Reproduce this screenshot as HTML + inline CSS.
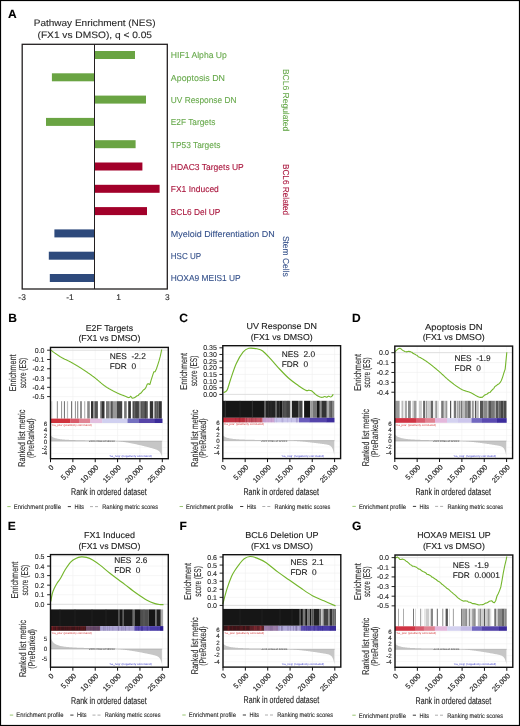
<!DOCTYPE html>
<html><head><meta charset="utf-8"><title>Figure</title>
<style>html,body{margin:0;padding:0;background:#fff;}body{width:520px;height:726px;overflow:hidden;font-family:"Liberation Sans",sans-serif;}svg{display:block;will-change:transform;}</style>
</head><body>
<svg width="520" height="726" viewBox="0 0 520 726" font-family="Liberation Sans, sans-serif" text-rendering="geometricPrecision"><rect x="0.5" y="0.5" width="519" height="725" fill="none" stroke="#000" stroke-width="1.2"/>
<text x="8.00" y="18.00" font-size="12" fill="#000" stroke="#000" stroke-width="0.12" font-weight="bold" >A</text>
<text x="33.75" y="25.75" font-size="9.4" fill="#2a2a2a" stroke="#2a2a2a" stroke-width="0.12" textLength="121.75" lengthAdjust="spacingAndGlyphs" >Pathway Enrichment (NES)</text>
<text x="37.50" y="37.75" font-size="9.4" fill="#2a2a2a" stroke="#2a2a2a" stroke-width="0.12" textLength="114.50" lengthAdjust="spacingAndGlyphs" >(FX1 vs DMSO), q &lt; 0.05</text>
<rect x="94.50" y="51.00" width="40.50" height="8.00" fill="#6aa443" />
<text x="170.80" y="58.40" font-size="8.7" fill="#66a84a" stroke="#66a84a" stroke-width="0.1" textLength="56.10" lengthAdjust="spacingAndGlyphs" >HIF1 Alpha Up</text>
<rect x="51.90" y="73.30" width="42.60" height="8.00" fill="#6aa443" />
<text x="170.80" y="80.70" font-size="8.7" fill="#66a84a" stroke="#66a84a" stroke-width="0.1" textLength="54.20" lengthAdjust="spacingAndGlyphs" >Apoptosis DN</text>
<rect x="94.50" y="95.60" width="51.50" height="8.00" fill="#6aa443" />
<text x="170.80" y="103.00" font-size="8.7" fill="#66a84a" stroke="#66a84a" stroke-width="0.1" textLength="65.70" lengthAdjust="spacingAndGlyphs" >UV Response DN</text>
<rect x="46.00" y="117.90" width="48.50" height="8.00" fill="#6aa443" />
<text x="170.80" y="125.30" font-size="8.7" fill="#66a84a" stroke="#66a84a" stroke-width="0.1" textLength="44.60" lengthAdjust="spacingAndGlyphs" >E2F Targets</text>
<rect x="94.50" y="140.20" width="41.10" height="8.00" fill="#6aa443" />
<text x="170.80" y="147.60" font-size="8.7" fill="#66a84a" stroke="#66a84a" stroke-width="0.1" textLength="49.60" lengthAdjust="spacingAndGlyphs" >TP53 Targets</text>
<rect x="94.50" y="162.50" width="47.90" height="8.00" fill="#a2002a" />
<text x="170.80" y="169.90" font-size="8.7" fill="#a8123a" stroke="#a8123a" stroke-width="0.1" textLength="73.00" lengthAdjust="spacingAndGlyphs" >HDAC3 Targets UP</text>
<rect x="94.50" y="184.80" width="65.10" height="8.00" fill="#a2002a" />
<text x="170.80" y="192.20" font-size="8.7" fill="#a8123a" stroke="#a8123a" stroke-width="0.1" textLength="48.00" lengthAdjust="spacingAndGlyphs" >FX1 Induced</text>
<rect x="94.50" y="207.10" width="52.50" height="8.00" fill="#a2002a" />
<text x="170.80" y="214.50" font-size="8.7" fill="#a8123a" stroke="#a8123a" stroke-width="0.1" textLength="49.60" lengthAdjust="spacingAndGlyphs" >BCL6 Del UP</text>
<rect x="54.40" y="229.40" width="40.10" height="8.00" fill="#2e4a7c" />
<text x="170.80" y="236.80" font-size="8.7" fill="#34508a" stroke="#34508a" stroke-width="0.1" textLength="103.90" lengthAdjust="spacingAndGlyphs" >Myeloid Differentiation DN</text>
<rect x="48.80" y="251.70" width="45.70" height="8.00" fill="#2e4a7c" />
<text x="170.80" y="259.10" font-size="8.7" fill="#34508a" stroke="#34508a" stroke-width="0.1" textLength="30.40" lengthAdjust="spacingAndGlyphs" >HSC UP</text>
<rect x="49.80" y="274.00" width="44.70" height="8.00" fill="#2e4a7c" />
<text x="170.80" y="281.40" font-size="8.7" fill="#34508a" stroke="#34508a" stroke-width="0.1" textLength="69.90" lengthAdjust="spacingAndGlyphs" >HOXA9 MEIS1 UP</text>
<rect x="22.2" y="44.3" width="145.10000000000002" height="244.7" fill="none" stroke="#231f20" stroke-width="1.3"/>
<line x1="94.50" y1="44.30" x2="94.50" y2="289.00" stroke="#231f20" stroke-width="1" />
<text x="283.20" y="68.90" font-size="8.7" fill="#66a84a" stroke="#66a84a" stroke-width="0.1" textLength="62.40" lengthAdjust="spacingAndGlyphs" transform="rotate(90 283.20 68.90)" >BCL6 Regulated</text>
<text x="283.20" y="163.90" font-size="8.7" fill="#a8123a" stroke="#a8123a" stroke-width="0.1" textLength="51.30" lengthAdjust="spacingAndGlyphs" transform="rotate(90 283.20 163.90)" >BCL6 Related</text>
<text x="283.20" y="235.90" font-size="8.7" fill="#34508a" stroke="#34508a" stroke-width="0.1" textLength="40.80" lengthAdjust="spacingAndGlyphs" transform="rotate(90 283.20 235.90)" >Stem Cells</text>
<text x="22.10" y="299.70" font-size="8.4" fill="#2a2a2a" stroke="#2a2a2a" stroke-width="0.12" text-anchor="middle" >-3</text>
<text x="70.00" y="299.70" font-size="8.4" fill="#2a2a2a" stroke="#2a2a2a" stroke-width="0.12" text-anchor="middle" >-1</text>
<text x="118.60" y="299.70" font-size="8.4" fill="#2a2a2a" stroke="#2a2a2a" stroke-width="0.12" text-anchor="middle" >1</text>
<text x="167.40" y="299.70" font-size="8.4" fill="#2a2a2a" stroke="#2a2a2a" stroke-width="0.12" text-anchor="middle" >3</text>
<text x="8.25" y="321.90" font-size="12" fill="#000" stroke="#000" stroke-width="0.12" font-weight="bold" >B</text>
<text x="109.40" y="330.80" font-size="8.6" fill="#222" stroke="#222" stroke-width="0.12" text-anchor="middle" textLength="47.40" lengthAdjust="spacingAndGlyphs" >E2F Targets</text>
<text x="109.40" y="341.40" font-size="8.6" fill="#222" stroke="#222" stroke-width="0.12" text-anchor="middle" textLength="62.00" lengthAdjust="spacingAndGlyphs" >(FX1 vs DMSO)</text>
<line x1="72.86" y1="347.40" x2="72.86" y2="401.20" stroke="#f0f0f0" stroke-width="0.6" />
<line x1="72.86" y1="423.00" x2="72.86" y2="458.70" stroke="#f0f0f0" stroke-width="0.6" />
<line x1="95.22" y1="347.40" x2="95.22" y2="401.20" stroke="#f0f0f0" stroke-width="0.6" />
<line x1="95.22" y1="423.00" x2="95.22" y2="458.70" stroke="#f0f0f0" stroke-width="0.6" />
<line x1="117.58" y1="347.40" x2="117.58" y2="401.20" stroke="#f0f0f0" stroke-width="0.6" />
<line x1="117.58" y1="423.00" x2="117.58" y2="458.70" stroke="#f0f0f0" stroke-width="0.6" />
<line x1="139.94" y1="347.40" x2="139.94" y2="401.20" stroke="#f0f0f0" stroke-width="0.6" />
<line x1="139.94" y1="423.00" x2="139.94" y2="458.70" stroke="#f0f0f0" stroke-width="0.6" />
<line x1="162.30" y1="347.40" x2="162.30" y2="401.20" stroke="#f0f0f0" stroke-width="0.6" />
<line x1="162.30" y1="423.00" x2="162.30" y2="458.70" stroke="#f0f0f0" stroke-width="0.6" />
<line x1="50.50" y1="350.20" x2="168.30" y2="350.20" stroke="#f0f0f0" stroke-width="0.6" />
<line x1="50.50" y1="359.48" x2="168.30" y2="359.48" stroke="#f0f0f0" stroke-width="0.6" />
<line x1="50.50" y1="368.76" x2="168.30" y2="368.76" stroke="#f0f0f0" stroke-width="0.6" />
<line x1="50.50" y1="378.04" x2="168.30" y2="378.04" stroke="#f0f0f0" stroke-width="0.6" />
<line x1="50.50" y1="387.32" x2="168.30" y2="387.32" stroke="#f0f0f0" stroke-width="0.6" />
<line x1="50.50" y1="396.60" x2="168.30" y2="396.60" stroke="#f0f0f0" stroke-width="0.6" />
<line x1="50.50" y1="350.20" x2="168.30" y2="350.20" stroke="#dadada" stroke-width="0.8" />
<line x1="50.50" y1="423.60" x2="168.30" y2="423.60" stroke="#f0f0f0" stroke-width="0.5" />
<line x1="50.50" y1="429.55" x2="168.30" y2="429.55" stroke="#f0f0f0" stroke-width="0.5" />
<line x1="50.50" y1="435.50" x2="168.30" y2="435.50" stroke="#f0f0f0" stroke-width="0.5" />
<line x1="50.50" y1="441.45" x2="168.30" y2="441.45" stroke="#f0f0f0" stroke-width="0.5" />
<line x1="50.50" y1="447.40" x2="168.30" y2="447.40" stroke="#f0f0f0" stroke-width="0.5" />
<line x1="50.50" y1="453.35" x2="168.30" y2="453.35" stroke="#f0f0f0" stroke-width="0.5" />
<rect x="51.30" y="401.20" width="1.00" height="17.40" fill="#ccc" />
<rect x="56.80" y="401.20" width="1.20" height="17.40" fill="#999" />
<rect x="61.00" y="401.20" width="1.10" height="17.40" fill="#999" />
<rect x="63.90" y="401.20" width="1.10" height="17.40" fill="#777" />
<rect x="66.90" y="401.20" width="1.20" height="17.40" fill="#bbb" />
<rect x="71.00" y="401.20" width="1.20" height="17.40" fill="#777" />
<rect x="74.90" y="401.20" width="1.10" height="17.40" fill="#999" />
<rect x="77.00" y="401.20" width="1.30" height="17.40" fill="#999" />
<rect x="80.30" y="401.20" width="1.40" height="17.40" fill="#666" />
<rect x="84.00" y="401.20" width="1.30" height="17.40" fill="#bbb" />
<rect x="87.20" y="401.20" width="2.60" height="17.40" fill="#888" />
<rect x="91.00" y="401.20" width="2.30" height="17.40" fill="#333" />
<rect x="93.30" y="401.20" width="1.20" height="17.40" fill="#888" />
<rect x="94.50" y="401.20" width="3.40" height="17.40" fill="#555" />
<rect x="100.20" y="401.20" width="1.20" height="17.40" fill="#777" />
<rect x="101.40" y="401.20" width="3.10" height="17.40" fill="#333" />
<rect x="106.00" y="401.20" width="3.10" height="17.40" fill="#777" />
<rect x="109.10" y="401.20" width="1.90" height="17.40" fill="#999" />
<rect x="111.00" y="401.20" width="1.90" height="17.40" fill="#555" />
<rect x="112.90" y="401.20" width="3.90" height="17.40" fill="#999" />
<rect x="116.80" y="401.20" width="5.40" height="17.40" fill="#444" />
<rect x="124.10" y="401.20" width="2.60" height="17.40" fill="#777" />
<rect x="128.20" y="401.20" width="2.70" height="17.40" fill="#333" />
<rect x="132.50" y="401.20" width="6.90" height="17.40" fill="#4c4c4c" />
<rect x="139.40" y="401.20" width="1.10" height="17.40" fill="#888" />
<rect x="140.50" y="401.20" width="7.30" height="17.40" fill="#555" />
<rect x="149.80" y="401.20" width="3.40" height="17.40" fill="#333" />
<rect x="154.40" y="401.20" width="4.20" height="17.40" fill="#555" />
<rect x="158.60" y="401.20" width="3.20" height="17.40" fill="#333" />
<rect x="134.20" y="401.20" width="0.60" height="17.40" fill="#777" />
<rect x="136.70" y="401.20" width="0.60" height="17.40" fill="#333" />
<rect x="142.70" y="401.20" width="0.60" height="17.40" fill="#777" />
<rect x="145.20" y="401.20" width="0.60" height="17.40" fill="#333" />
<rect x="156.20" y="401.20" width="0.60" height="17.40" fill="#777" />
<rect x="50.80" y="418.60" width="19.70" height="4.40" fill="#d0323c" />
<rect x="70.30" y="418.60" width="9.40" height="4.40" fill="#d85a6a" />
<rect x="79.50" y="418.60" width="10.90" height="4.40" fill="#e08494" />
<rect x="90.20" y="418.60" width="12.20" height="4.40" fill="#e2c0e0" />
<rect x="102.20" y="418.60" width="25.50" height="4.40" fill="#d0d0f0" />
<rect x="127.50" y="418.60" width="11.30" height="4.40" fill="#7470c0" />
<rect x="138.60" y="418.60" width="16.40" height="4.40" fill="#5644a8" />
<rect x="154.80" y="418.60" width="7.70" height="4.40" fill="#3a2a98" />
<text x="51.70" y="426.00" font-size="2.7" fill="#d02828" textLength="40.00" lengthAdjust="spacingAndGlyphs" >&#x27;na_pos&#x27; (positively correlated)</text>
<text x="109.20" y="456.70" font-size="2.7" fill="#3030c8" textLength="42.50" lengthAdjust="spacingAndGlyphs" >&#x27;na_neg&#x27; (negatively correlated)</text>
<path d="M50.50,441.10 L50.50,435.30 L51.20,436.01 L51.90,436.57 L52.60,437.02 L53.30,437.38 L54.00,437.69 L54.70,437.95 L55.40,438.17 L56.10,438.36 L56.80,438.53 L57.50,438.68 L58.20,438.82 L58.90,438.94 L59.60,439.04 L60.30,439.14 L61.00,439.23 L61.70,439.31 L62.40,439.38 L63.10,439.45 L63.80,439.52 L64.50,439.57 L65.20,439.63 L65.90,439.68 L66.60,439.73 L67.30,439.77 L68.00,439.81 L68.70,439.85 L69.40,439.89 L70.10,439.92 L70.80,439.95 L71.50,439.98 L72.20,440.01 L72.90,440.04 L73.60,440.07 L74.30,440.09 L75.00,440.12 L75.70,440.14 L76.40,440.16 L77.10,440.18 L77.80,440.20 L78.50,440.22 L79.20,440.24 L79.90,440.26 L80.60,440.27 L81.30,440.29 L82.00,440.31 L82.70,440.32 L83.40,440.33 L84.10,440.35 L84.80,440.36 L85.50,440.38 L86.20,440.39 L86.90,440.40 L87.60,440.41 L88.30,440.42 L89.00,440.43 L89.70,440.44 L90.40,440.45 L91.10,440.46 L91.80,440.47 L92.50,440.48 L93.20,440.49 L93.90,440.50 L94.60,440.51 L95.30,440.52 L96.00,440.53 L96.70,440.53 L97.40,440.54 L98.10,440.55 L98.80,440.56 L99.50,440.56 L100.20,440.57 L100.90,440.58 L101.60,440.58 L102.30,440.59 L103.00,440.60 L103.70,440.60 L104.40,440.61 L105.10,440.61 L105.80,440.62 L106.50,440.62 L107.20,440.63 L107.90,440.64 L108.60,440.64 L109.30,440.65 L110.00,440.65 L110.70,440.66 L111.40,440.66 L112.10,440.66 L112.80,440.67 L113.50,440.67 L114.20,440.68 L114.90,440.68 L115.60,440.69 L115.50,441.10 Z" fill="#c6c6c6"/>
<path d="M115.50,441.10 L115.50,441.10 L115.89,441.11 L116.27,441.13 L116.66,441.16 L117.05,441.19 L117.43,441.22 L117.82,441.25 L118.21,441.29 L118.59,441.33 L118.98,441.37 L119.37,441.41 L119.75,441.45 L120.14,441.50 L120.53,441.55 L120.91,441.59 L121.30,441.64 L121.69,441.70 L122.07,441.75 L122.46,441.80 L122.85,441.86 L123.23,441.91 L123.62,441.97 L124.01,442.03 L124.39,442.09 L124.78,442.15 L125.17,442.21 L125.55,442.28 L125.94,442.34 L126.33,442.40 L126.71,442.47 L127.10,442.54 L127.49,442.60 L127.87,442.67 L128.26,442.74 L128.65,442.81 L129.03,442.88 L129.42,442.95 L129.81,443.03 L130.19,443.10 L130.58,443.17 L130.97,443.25 L131.35,443.32 L131.74,443.40 L132.13,443.48 L132.51,443.55 L132.90,443.63 L133.29,443.71 L133.67,443.79 L134.06,443.87 L134.45,443.95 L134.83,444.04 L135.22,444.12 L135.61,444.20 L135.99,444.29 L136.38,444.37 L136.77,444.45 L137.15,444.54 L137.54,444.63 L137.93,444.71 L138.31,444.80 L138.70,444.89 L139.09,444.98 L139.47,445.07 L139.86,445.16 L140.25,445.25 L140.63,445.34 L141.02,445.43 L141.41,445.52 L141.79,445.62 L142.18,445.71 L142.57,445.80 L142.95,445.90 L143.34,445.99 L143.73,446.09 L144.11,446.18 L144.50,446.28 L144.89,446.38 L145.27,446.47 L145.66,446.57 L146.05,446.67 L146.43,446.77 L146.82,446.87 L147.21,446.97 L147.59,447.07 L147.98,447.17 L148.37,447.27 L148.75,447.37 L149.14,447.48 L149.53,447.58 L149.91,447.68 L150.30,447.79 L150.69,447.89 L151.07,448.00 L151.46,448.10 L151.85,448.21 L152.23,448.32 L152.62,448.43 L153.01,448.54 L153.39,448.65 L153.78,448.76 L154.17,448.88 L154.55,449.00 L154.94,449.12 L155.33,449.25 L155.71,449.38 L156.10,449.53 L156.49,449.68 L156.87,449.84 L157.26,450.02 L157.65,450.21 L158.03,450.43 L158.42,450.69 L158.81,450.98 L159.19,451.32 L159.58,451.72 L159.97,452.19 L160.35,452.77 L160.74,453.46 L161.13,454.30 L161.51,455.33 L161.90,456.60 L161.90,441.10 Z" fill="#c6c6c6"/>
<line x1="50.50" y1="441.10" x2="162.30" y2="441.10" stroke="#9a9a9a" stroke-width="0.5" />
<text x="89.00" y="442.00" font-size="2.7" fill="#333" textLength="26.00" lengthAdjust="spacingAndGlyphs" >Zero cross at 12XXX</text>
<path d="M50.80,350.10 L50.94,350.20 L51.10,350.32 L51.27,350.45 L51.47,350.60 L51.68,350.76 L51.91,350.93 L52.15,351.12 L52.41,351.31 L52.68,351.52 L52.97,351.73 L53.27,351.94 L53.57,352.17 L53.89,352.40 L54.22,352.63 L54.56,352.86 L54.90,353.10 L55.10,353.24 L55.31,353.38 L55.51,353.52 L55.73,353.67 L55.95,353.83 L56.17,353.98 L56.39,354.14 L56.62,354.30 L56.86,354.46 L57.10,354.62 L57.34,354.79 L57.58,354.96 L57.83,355.13 L58.08,355.30 L58.34,355.47 L58.59,355.64 L58.85,355.82 L59.12,355.99 L59.39,356.17 L59.66,356.34 L59.93,356.51 L60.20,356.69 L60.48,356.86 L60.76,357.03 L61.04,357.20 L61.33,357.37 L61.61,357.53 L61.90,357.70 L62.13,357.83 L62.35,357.95 L62.58,358.08 L62.81,358.20 L63.05,358.32 L63.28,358.44 L63.52,358.56 L63.75,358.68 L63.99,358.80 L64.23,358.91 L64.47,359.03 L64.72,359.15 L64.96,359.27 L65.21,359.38 L65.46,359.50 L65.71,359.62 L65.96,359.74 L66.22,359.86 L66.47,359.98 L66.73,360.10 L66.99,360.22 L67.25,360.34 L67.52,360.47 L67.78,360.60 L68.05,360.72 L68.32,360.86 L68.59,360.99 L68.86,361.12 L69.13,361.26 L69.41,361.40 L69.69,361.54 L69.96,361.69 L70.25,361.84 L70.53,361.99 L70.81,362.14 L71.10,362.30 L71.33,362.43 L71.55,362.55 L71.78,362.68 L72.02,362.81 L72.25,362.94 L72.49,363.08 L72.72,363.21 L72.96,363.35 L73.20,363.49 L73.45,363.62 L73.69,363.76 L73.93,363.91 L74.18,364.05 L74.43,364.19 L74.68,364.34 L74.93,364.48 L75.18,364.63 L75.43,364.78 L75.68,364.93 L75.93,365.08 L76.19,365.23 L76.44,365.38 L76.70,365.53 L76.96,365.68 L77.21,365.84 L77.47,365.99 L77.73,366.15 L77.99,366.31 L78.24,366.46 L78.50,366.62 L78.76,366.78 L79.02,366.94 L79.28,367.10 L79.54,367.26 L79.79,367.42 L80.05,367.58 L80.31,367.74 L80.57,367.90 L80.82,368.06 L81.08,368.22 L81.33,368.39 L81.59,368.55 L81.84,368.71 L82.10,368.87 L82.35,369.04 L82.60,369.20 L82.85,369.36 L83.10,369.53 L83.35,369.69 L83.61,369.86 L83.86,370.02 L84.11,370.19 L84.36,370.36 L84.61,370.52 L84.86,370.69 L85.12,370.86 L85.37,371.03 L85.62,371.20 L85.87,371.37 L86.13,371.54 L86.38,371.71 L86.63,371.88 L86.88,372.05 L87.14,372.23 L87.39,372.40 L87.64,372.57 L87.89,372.75 L88.15,372.92 L88.40,373.10 L88.65,373.28 L88.91,373.45 L89.16,373.63 L89.41,373.81 L89.66,373.99 L89.92,374.17 L90.17,374.35 L90.42,374.53 L90.67,374.71 L90.93,374.89 L91.18,375.07 L91.43,375.25 L91.68,375.44 L91.94,375.62 L92.19,375.81 L92.44,375.99 L92.69,376.18 L92.94,376.36 L93.19,376.55 L93.45,376.74 L93.70,376.92 L93.95,377.11 L94.20,377.30 L94.45,377.49 L94.70,377.68 L94.95,377.88 L95.20,378.08 L95.45,378.27 L95.70,378.48 L95.95,378.68 L96.20,378.88 L96.45,379.09 L96.70,379.30 L96.95,379.50 L97.20,379.71 L97.45,379.92 L97.70,380.14 L97.95,380.35 L98.20,380.56 L98.45,380.77 L98.70,380.99 L98.95,381.20 L99.20,381.42 L99.45,381.63 L99.70,381.84 L99.95,382.06 L100.20,382.27 L100.45,382.48 L100.70,382.69 L100.95,382.90 L101.20,383.12 L101.45,383.32 L101.70,383.53 L101.95,383.74 L102.20,383.94 L102.45,384.15 L102.70,384.35 L102.95,384.55 L103.20,384.75 L103.45,384.95 L103.70,385.14 L103.95,385.33 L104.20,385.52 L104.45,385.71 L104.70,385.89 L104.95,386.07 L105.20,386.25 L105.45,386.43 L105.70,386.60 L105.95,386.77 L106.21,386.94 L106.46,387.11 L106.72,387.27 L106.98,387.44 L107.24,387.60 L107.51,387.77 L107.77,387.93 L108.04,388.09 L108.30,388.25 L108.57,388.41 L108.84,388.57 L109.11,388.72 L109.37,388.88 L109.64,389.03 L109.91,389.18 L110.18,389.33 L110.45,389.48 L110.72,389.63 L110.99,389.78 L111.26,389.92 L111.52,390.06 L111.79,390.21 L112.05,390.35 L112.32,390.49 L112.58,390.62 L112.84,390.76 L113.10,390.89 L113.35,391.02 L113.61,391.15 L113.86,391.28 L114.11,391.41 L114.36,391.54 L114.61,391.66 L114.85,391.78 L115.09,391.90 L115.33,392.02 L115.56,392.14 L115.79,392.25 L116.02,392.36 L116.24,392.48 L116.46,392.58 L116.68,392.69 L116.89,392.80 L117.10,392.90 L117.30,393.00 L117.64,393.17 L117.97,393.32 L118.29,393.47 L118.60,393.62 L118.90,393.75 L119.19,393.88 L119.48,394.01 L119.76,394.12 L120.03,394.24 L120.30,394.34 L120.56,394.45 L120.82,394.55 L121.06,394.64 L121.31,394.73 L121.55,394.82 L121.78,394.91 L122.02,394.99 L122.24,395.07 L122.47,395.15 L122.69,395.23 L122.91,395.31 L123.13,395.39 L123.35,395.47 L123.56,395.55 L123.77,395.63 L123.99,395.72 L124.20,395.80 L124.52,395.93 L124.83,396.06 L125.13,396.19 L125.43,396.33 L125.72,396.46 L126.00,396.59 L126.28,396.72 L126.55,396.84 L126.81,396.96 L127.07,397.07 L127.31,397.17 L127.55,397.27 L127.78,397.35 L128.00,397.43 L128.22,397.49 L128.42,397.54 L128.61,397.58 L128.80,397.60 L129.22,397.55 L129.55,397.36 L129.82,397.10 L130.05,396.80 L130.26,396.54 L130.47,396.35 L130.70,396.30 L130.96,396.45 L131.19,396.78 L131.40,397.19 L131.64,397.60 L131.93,397.93 L132.30,398.10 L132.49,398.12 L132.69,398.12 L132.90,398.10 L133.13,398.07 L133.36,398.02 L133.61,397.96 L133.86,397.88 L134.12,397.79 L134.39,397.69 L134.66,397.57 L134.94,397.45 L135.51,396.98 L136.77,396.03 L138.11,395.55 L139.44,393.90 L140.70,393.26 L142.11,391.68 L143.35,390.03 L144.67,389.24 L145.88,387.59 L147.25,384.14 L148.54,383.72 L149.84,384.53 L151.14,380.08 L152.48,375.85 L153.80,371.92 L155.10,371.75 L156.37,369.04 L157.70,365.05 L159.03,360.92 L160.33,356.22 L161.60,350.08 L161.60,349.60" fill="none" stroke="#74b62c" stroke-width="1.1" stroke-linejoin="round"/>
<rect x="50.50" y="347.40" width="117.80" height="111.30" fill="none" stroke="#111" stroke-width="1.4"/>
<line x1="47.10" y1="350.20" x2="50.50" y2="350.20" stroke="#111" stroke-width="0.9" />
<text x="44.50" y="352.70" font-size="7" fill="#2a2a2a" stroke="#2a2a2a" stroke-width="0.12" text-anchor="end" >0.0</text>
<line x1="47.10" y1="359.48" x2="50.50" y2="359.48" stroke="#111" stroke-width="0.9" />
<text x="44.50" y="361.98" font-size="7" fill="#2a2a2a" stroke="#2a2a2a" stroke-width="0.12" text-anchor="end" >-0.1</text>
<line x1="47.10" y1="368.76" x2="50.50" y2="368.76" stroke="#111" stroke-width="0.9" />
<text x="44.50" y="371.26" font-size="7" fill="#2a2a2a" stroke="#2a2a2a" stroke-width="0.12" text-anchor="end" >-0.2</text>
<line x1="47.10" y1="378.04" x2="50.50" y2="378.04" stroke="#111" stroke-width="0.9" />
<text x="44.50" y="380.54" font-size="7" fill="#2a2a2a" stroke="#2a2a2a" stroke-width="0.12" text-anchor="end" >-0.3</text>
<line x1="47.10" y1="387.32" x2="50.50" y2="387.32" stroke="#111" stroke-width="0.9" />
<text x="44.50" y="389.82" font-size="7" fill="#2a2a2a" stroke="#2a2a2a" stroke-width="0.12" text-anchor="end" >-0.4</text>
<line x1="47.10" y1="396.60" x2="50.50" y2="396.60" stroke="#111" stroke-width="0.9" />
<text x="44.50" y="399.10" font-size="7" fill="#2a2a2a" stroke="#2a2a2a" stroke-width="0.12" text-anchor="end" >-0.5</text>
<text x="47.30" y="425.70" font-size="6.2" fill="#2a2a2a" stroke="#2a2a2a" stroke-width="0.12" text-anchor="end" transform="translate(0 0)">6</text>
<text x="47.30" y="431.65" font-size="6.2" fill="#2a2a2a" stroke="#2a2a2a" stroke-width="0.12" text-anchor="end" transform="translate(0 0)">4</text>
<text x="47.30" y="437.60" font-size="6.2" fill="#2a2a2a" stroke="#2a2a2a" stroke-width="0.12" text-anchor="end" transform="translate(0 0)">2</text>
<text x="47.30" y="443.55" font-size="6.2" fill="#2a2a2a" stroke="#2a2a2a" stroke-width="0.12" text-anchor="end" transform="translate(0 0)">0</text>
<text x="47.30" y="449.50" font-size="6.2" fill="#2a2a2a" stroke="#2a2a2a" stroke-width="0.12" text-anchor="end" transform="translate(0 0)">-2</text>
<text x="47.30" y="455.45" font-size="6.2" fill="#2a2a2a" stroke="#2a2a2a" stroke-width="0.12" text-anchor="end" transform="translate(0 0)">-4</text>
<line x1="50.50" y1="458.70" x2="50.50" y2="462.20" stroke="#111" stroke-width="1" />
<text x="0" y="0" font-size="7.2" fill="#2a2a2a" stroke="#2a2a2a" stroke-width="0.15" text-anchor="end" transform="translate(54.20 467.80) rotate(-45)">0</text>
<line x1="72.86" y1="458.70" x2="72.86" y2="462.20" stroke="#111" stroke-width="1" />
<text x="0" y="0" font-size="7.2" fill="#2a2a2a" stroke="#2a2a2a" stroke-width="0.15" text-anchor="end" transform="translate(76.56 467.80) rotate(-45)">5,000</text>
<line x1="95.22" y1="458.70" x2="95.22" y2="462.20" stroke="#111" stroke-width="1" />
<text x="0" y="0" font-size="7.2" fill="#2a2a2a" stroke="#2a2a2a" stroke-width="0.15" text-anchor="end" transform="translate(98.92 467.80) rotate(-45)">10,000</text>
<line x1="117.58" y1="458.70" x2="117.58" y2="462.20" stroke="#111" stroke-width="1" />
<text x="0" y="0" font-size="7.2" fill="#2a2a2a" stroke="#2a2a2a" stroke-width="0.15" text-anchor="end" transform="translate(121.28 467.80) rotate(-45)">15,000</text>
<line x1="139.94" y1="458.70" x2="139.94" y2="462.20" stroke="#111" stroke-width="1" />
<text x="0" y="0" font-size="7.2" fill="#2a2a2a" stroke="#2a2a2a" stroke-width="0.15" text-anchor="end" transform="translate(143.64 467.80) rotate(-45)">20,000</text>
<line x1="162.30" y1="458.70" x2="162.30" y2="462.20" stroke="#111" stroke-width="1" />
<text x="0" y="0" font-size="7.2" fill="#2a2a2a" stroke="#2a2a2a" stroke-width="0.15" text-anchor="end" transform="translate(166.00 467.80) rotate(-45)">25,000</text>
<text x="108.90" y="495.00" font-size="9.8" fill="#222" stroke="#222" stroke-width="0.12" text-anchor="middle" textLength="75.60" lengthAdjust="spacingAndGlyphs" >Rank in ordered dataset</text>
<text x="109.80" y="358.60" font-size="8.3" fill="#1a1a1a" stroke="#1a1a1a" stroke-width="0.12" style="white-space:pre">NES  -2.2</text>
<text x="109.80" y="368.80" font-size="8.3" fill="#1a1a1a" stroke="#1a1a1a" stroke-width="0.12" style="white-space:pre">FDR  0</text>
<text x="16.40" y="372.85" font-size="9.8" fill="#2a2a2a" stroke="#2a2a2a" stroke-width="0.12" text-anchor="middle" textLength="36.80" lengthAdjust="spacingAndGlyphs" transform="rotate(-90 16.40 372.85)" >Enrichment</text>
<text x="25.60" y="373.05" font-size="9.8" fill="#2a2a2a" stroke="#2a2a2a" stroke-width="0.12" text-anchor="middle" textLength="30.60" lengthAdjust="spacingAndGlyphs" transform="rotate(-90 25.60 373.05)" >score (ES)</text>
<text x="25.40" y="438.20" font-size="9.8" fill="#2a2a2a" stroke="#2a2a2a" stroke-width="0.12" text-anchor="middle" textLength="57.00" lengthAdjust="spacingAndGlyphs" transform="rotate(-90 25.40 438.20)" >Ranked list metric</text>
<text x="34.00" y="438.25" font-size="9.8" fill="#2a2a2a" stroke="#2a2a2a" stroke-width="0.12" text-anchor="middle" textLength="39.50" lengthAdjust="spacingAndGlyphs" transform="rotate(-90 34.00 438.25)" >(PreRanked)</text>
<line x1="7.30" y1="506.60" x2="10.70" y2="506.60" stroke="#8cc060" stroke-width="0.9" />
<text x="13.80" y="508.90" font-size="6.6" fill="#2a2a2a" stroke="#2a2a2a" stroke-width="0.12" textLength="47.10" lengthAdjust="spacingAndGlyphs" >Enrichment profile</text>
<line x1="67.80" y1="506.60" x2="71.00" y2="506.60" stroke="#222" stroke-width="0.9" />
<text x="74.40" y="508.90" font-size="6.6" fill="#2a2a2a" stroke="#2a2a2a" stroke-width="0.12" textLength="9.60" lengthAdjust="spacingAndGlyphs" >Hits</text>
<line x1="90.00" y1="506.60" x2="93.00" y2="506.60" stroke="#999" stroke-width="0.8" />
<line x1="95.00" y1="506.60" x2="98.00" y2="506.60" stroke="#999" stroke-width="0.8" />
<text x="102.30" y="508.90" font-size="6.6" fill="#2a2a2a" stroke="#2a2a2a" stroke-width="0.12" textLength="55.70" lengthAdjust="spacingAndGlyphs" >Ranking metric scores</text>
<text x="179.20" y="321.90" font-size="12" fill="#000" stroke="#000" stroke-width="0.12" font-weight="bold" >C</text>
<text x="281.70" y="329.10" font-size="8.6" fill="#222" stroke="#222" stroke-width="0.12" text-anchor="middle" textLength="70.50" lengthAdjust="spacingAndGlyphs" >UV Response DN</text>
<text x="281.70" y="339.70" font-size="8.6" fill="#222" stroke="#222" stroke-width="0.12" text-anchor="middle" textLength="62.00" lengthAdjust="spacingAndGlyphs" >(FX1 vs DMSO)</text>
<line x1="245.16" y1="345.70" x2="245.16" y2="400.80" stroke="#f0f0f0" stroke-width="0.6" />
<line x1="245.16" y1="422.40" x2="245.16" y2="458.60" stroke="#f0f0f0" stroke-width="0.6" />
<line x1="267.52" y1="345.70" x2="267.52" y2="400.80" stroke="#f0f0f0" stroke-width="0.6" />
<line x1="267.52" y1="422.40" x2="267.52" y2="458.60" stroke="#f0f0f0" stroke-width="0.6" />
<line x1="289.88" y1="345.70" x2="289.88" y2="400.80" stroke="#f0f0f0" stroke-width="0.6" />
<line x1="289.88" y1="422.40" x2="289.88" y2="458.60" stroke="#f0f0f0" stroke-width="0.6" />
<line x1="312.24" y1="345.70" x2="312.24" y2="400.80" stroke="#f0f0f0" stroke-width="0.6" />
<line x1="312.24" y1="422.40" x2="312.24" y2="458.60" stroke="#f0f0f0" stroke-width="0.6" />
<line x1="334.60" y1="345.70" x2="334.60" y2="400.80" stroke="#f0f0f0" stroke-width="0.6" />
<line x1="334.60" y1="422.40" x2="334.60" y2="458.60" stroke="#f0f0f0" stroke-width="0.6" />
<line x1="222.80" y1="347.80" x2="340.60" y2="347.80" stroke="#f0f0f0" stroke-width="0.6" />
<line x1="222.80" y1="354.46" x2="340.60" y2="354.46" stroke="#f0f0f0" stroke-width="0.6" />
<line x1="222.80" y1="361.12" x2="340.60" y2="361.12" stroke="#f0f0f0" stroke-width="0.6" />
<line x1="222.80" y1="367.78" x2="340.60" y2="367.78" stroke="#f0f0f0" stroke-width="0.6" />
<line x1="222.80" y1="374.44" x2="340.60" y2="374.44" stroke="#f0f0f0" stroke-width="0.6" />
<line x1="222.80" y1="381.10" x2="340.60" y2="381.10" stroke="#f0f0f0" stroke-width="0.6" />
<line x1="222.80" y1="387.76" x2="340.60" y2="387.76" stroke="#f0f0f0" stroke-width="0.6" />
<line x1="222.80" y1="394.42" x2="340.60" y2="394.42" stroke="#f0f0f0" stroke-width="0.6" />
<line x1="222.80" y1="394.40" x2="340.60" y2="394.40" stroke="#dadada" stroke-width="0.8" />
<line x1="222.80" y1="423.10" x2="340.60" y2="423.10" stroke="#f0f0f0" stroke-width="0.5" />
<line x1="222.80" y1="429.05" x2="340.60" y2="429.05" stroke="#f0f0f0" stroke-width="0.5" />
<line x1="222.80" y1="435.00" x2="340.60" y2="435.00" stroke="#f0f0f0" stroke-width="0.5" />
<line x1="222.80" y1="440.95" x2="340.60" y2="440.95" stroke="#f0f0f0" stroke-width="0.5" />
<line x1="222.80" y1="446.90" x2="340.60" y2="446.90" stroke="#f0f0f0" stroke-width="0.5" />
<line x1="222.80" y1="452.85" x2="340.60" y2="452.85" stroke="#f0f0f0" stroke-width="0.5" />
<rect x="223.00" y="400.80" width="41.20" height="17.00" fill="#161616" />
<rect x="264.20" y="400.80" width="1.50" height="17.00" fill="#444" />
<rect x="265.70" y="400.80" width="10.00" height="17.00" fill="#222" />
<rect x="275.70" y="400.80" width="1.10" height="17.00" fill="#555" />
<rect x="276.80" y="400.80" width="3.10" height="17.00" fill="#222" />
<rect x="279.90" y="400.80" width="2.70" height="17.00" fill="#161616" />
<rect x="282.60" y="400.80" width="7.70" height="17.00" fill="#4a4a4a" />
<rect x="291.80" y="400.80" width="6.20" height="17.00" fill="#222" />
<rect x="298.00" y="400.80" width="1.10" height="17.00" fill="#666" />
<rect x="299.10" y="400.80" width="3.40" height="17.00" fill="#444" />
<rect x="304.10" y="400.80" width="6.10" height="17.00" fill="#161616" />
<rect x="310.20" y="400.80" width="2.70" height="17.00" fill="#999" />
<rect x="312.90" y="400.80" width="3.90" height="17.00" fill="#777" />
<rect x="316.80" y="400.80" width="3.00" height="17.00" fill="#161616" />
<rect x="319.80" y="400.80" width="1.60" height="17.00" fill="#888" />
<rect x="321.40" y="400.80" width="5.40" height="17.00" fill="#333" />
<rect x="326.80" y="400.80" width="2.30" height="17.00" fill="#aaa" />
<rect x="329.10" y="400.80" width="2.30" height="17.00" fill="#666" />
<rect x="331.40" y="400.80" width="1.10" height="17.00" fill="#161616" />
<rect x="332.50" y="400.80" width="1.80" height="17.00" fill="#888" />
<rect x="224.80" y="400.80" width="0.80" height="17.00" fill="#444" />
<rect x="239.70" y="400.80" width="0.60" height="17.00" fill="#2a2a2a" />
<rect x="251.90" y="400.80" width="0.80" height="17.00" fill="#3a3a3a" />
<rect x="268.20" y="400.80" width="0.60" height="17.00" fill="#333" />
<rect x="270.70" y="400.80" width="0.60" height="17.00" fill="#333" />
<rect x="284.70" y="400.80" width="0.60" height="17.00" fill="#666" />
<rect x="287.70" y="400.80" width="0.60" height="17.00" fill="#333" />
<rect x="223.00" y="417.80" width="2.20" height="4.60" fill="#d82030" />
<rect x="225.00" y="417.80" width="20.20" height="4.60" fill="#bc3040" />
<rect x="245.00" y="417.80" width="17.80" height="4.60" fill="#c45262" />
<rect x="262.60" y="417.80" width="12.10" height="4.60" fill="#cca4d2" />
<rect x="274.50" y="417.80" width="24.70" height="4.60" fill="#c8c4ea" />
<rect x="299.00" y="417.80" width="11.00" height="4.60" fill="#6a5cbc" />
<rect x="309.80" y="417.80" width="17.20" height="4.60" fill="#5444aa" />
<rect x="326.80" y="417.80" width="7.70" height="4.60" fill="#3c2c9c" />
<rect x="251.70" y="417.80" width="0.50" height="4.60" fill="#801820" fill-opacity="0.33"/>
<rect x="239.61" y="417.80" width="0.90" height="4.60" fill="#801820" fill-opacity="0.21"/>
<rect x="252.81" y="417.80" width="0.70" height="4.60" fill="#801820" fill-opacity="0.21"/>
<rect x="249.24" y="417.80" width="0.90" height="4.60" fill="#801820" fill-opacity="0.23"/>
<rect x="239.50" y="417.80" width="0.50" height="4.60" fill="#801820" fill-opacity="0.40"/>
<rect x="238.71" y="417.80" width="0.50" height="4.60" fill="#801820" fill-opacity="0.36"/>
<rect x="260.32" y="417.80" width="0.50" height="4.60" fill="#801820" fill-opacity="0.33"/>
<rect x="255.80" y="417.80" width="0.50" height="4.60" fill="#801820" fill-opacity="0.23"/>
<rect x="245.94" y="417.80" width="0.70" height="4.60" fill="#801820" fill-opacity="0.27"/>
<rect x="254.78" y="417.80" width="0.50" height="4.60" fill="#801820" fill-opacity="0.21"/>
<rect x="251.30" y="417.80" width="0.90" height="4.60" fill="#801820" fill-opacity="0.31"/>
<rect x="242.56" y="417.80" width="0.90" height="4.60" fill="#801820" fill-opacity="0.20"/>
<rect x="246.05" y="417.80" width="0.90" height="4.60" fill="#801820" fill-opacity="0.26"/>
<rect x="235.26" y="417.80" width="0.90" height="4.60" fill="#801820" fill-opacity="0.28"/>
<rect x="255.54" y="417.80" width="0.50" height="4.60" fill="#801820" fill-opacity="0.21"/>
<rect x="297.57" y="417.80" width="0.50" height="4.60" fill="#8070b0" fill-opacity="0.34"/>
<rect x="276.37" y="417.80" width="0.70" height="4.60" fill="#8070b0" fill-opacity="0.28"/>
<rect x="267.83" y="417.80" width="0.50" height="4.60" fill="#8070b0" fill-opacity="0.19"/>
<rect x="282.38" y="417.80" width="0.90" height="4.60" fill="#8070b0" fill-opacity="0.31"/>
<rect x="263.76" y="417.80" width="0.50" height="4.60" fill="#8070b0" fill-opacity="0.24"/>
<rect x="291.22" y="417.80" width="0.50" height="4.60" fill="#8070b0" fill-opacity="0.32"/>
<rect x="274.22" y="417.80" width="0.70" height="4.60" fill="#8070b0" fill-opacity="0.31"/>
<rect x="297.24" y="417.80" width="0.90" height="4.60" fill="#8070b0" fill-opacity="0.26"/>
<rect x="264.80" y="417.80" width="0.70" height="4.60" fill="#8070b0" fill-opacity="0.19"/>
<rect x="270.96" y="417.80" width="0.50" height="4.60" fill="#8070b0" fill-opacity="0.34"/>
<rect x="287.38" y="417.80" width="0.70" height="4.60" fill="#8070b0" fill-opacity="0.24"/>
<rect x="295.92" y="417.80" width="0.90" height="4.60" fill="#8070b0" fill-opacity="0.31"/>
<rect x="296.14" y="417.80" width="0.90" height="4.60" fill="#8070b0" fill-opacity="0.25"/>
<rect x="281.49" y="417.80" width="0.90" height="4.60" fill="#8070b0" fill-opacity="0.24"/>
<rect x="263.21" y="417.80" width="0.50" height="4.60" fill="#8070b0" fill-opacity="0.20"/>
<text x="224.00" y="425.40" font-size="2.7" fill="#d02828" textLength="40.00" lengthAdjust="spacingAndGlyphs" >&#x27;na_pos&#x27; (positively correlated)</text>
<text x="281.50" y="456.60" font-size="2.7" fill="#3030c8" textLength="42.50" lengthAdjust="spacingAndGlyphs" >&#x27;na_neg&#x27; (negatively correlated)</text>
<path d="M222.80,440.60 L222.80,435.30 L223.50,435.95 L224.20,436.46 L224.90,436.87 L225.60,437.20 L226.30,437.48 L227.00,437.72 L227.70,437.92 L228.40,438.10 L229.10,438.25 L229.80,438.39 L230.50,438.51 L231.20,438.62 L231.90,438.72 L232.60,438.81 L233.30,438.89 L234.00,438.96 L234.70,439.03 L235.40,439.09 L236.10,439.15 L236.80,439.21 L237.50,439.25 L238.20,439.30 L238.90,439.34 L239.60,439.38 L240.30,439.42 L241.00,439.46 L241.70,439.49 L242.40,439.52 L243.10,439.55 L243.80,439.58 L244.50,439.61 L245.20,439.63 L245.90,439.66 L246.60,439.68 L247.30,439.70 L248.00,439.72 L248.70,439.74 L249.40,439.76 L250.10,439.78 L250.80,439.80 L251.50,439.81 L252.20,439.83 L252.90,439.85 L253.60,439.86 L254.30,439.87 L255.00,439.89 L255.70,439.90 L256.40,439.91 L257.10,439.93 L257.80,439.94 L258.50,439.95 L259.20,439.96 L259.90,439.97 L260.60,439.98 L261.30,439.99 L262.00,440.00 L262.70,440.01 L263.40,440.02 L264.10,440.03 L264.80,440.04 L265.50,440.04 L266.20,440.05 L266.90,440.06 L267.60,440.07 L268.30,440.08 L269.00,440.08 L269.70,440.09 L270.40,440.10 L271.10,440.10 L271.80,440.11 L272.50,440.12 L273.20,440.12 L273.90,440.13 L274.60,440.13 L275.30,440.14 L276.00,440.14 L276.70,440.15 L277.40,440.16 L278.10,440.16 L278.80,440.17 L279.50,440.17 L280.20,440.18 L280.90,440.18 L281.60,440.18 L282.30,440.19 L283.00,440.19 L283.70,440.20 L284.40,440.20 L285.10,440.21 L285.80,440.21 L286.50,440.21 L287.20,440.22 L287.90,440.22 L287.80,440.60 Z" fill="#c6c6c6"/>
<path d="M287.80,440.60 L287.80,440.60 L288.19,440.61 L288.57,440.62 L288.96,440.63 L289.35,440.64 L289.73,440.66 L290.12,440.68 L290.51,440.69 L290.89,440.71 L291.28,440.73 L291.67,440.75 L292.05,440.78 L292.44,440.80 L292.83,440.82 L293.21,440.85 L293.60,440.87 L293.99,440.90 L294.37,440.92 L294.76,440.95 L295.15,440.98 L295.53,441.01 L295.92,441.04 L296.31,441.07 L296.69,441.09 L297.08,441.13 L297.47,441.16 L297.85,441.19 L298.24,441.22 L298.63,441.25 L299.01,441.28 L299.40,441.32 L299.79,441.35 L300.17,441.39 L300.56,441.42 L300.95,441.46 L301.33,441.49 L301.72,441.53 L302.11,441.56 L302.49,441.60 L302.88,441.64 L303.27,441.67 L303.65,441.71 L304.04,441.75 L304.43,441.79 L304.81,441.83 L305.20,441.87 L305.59,441.91 L305.97,441.95 L306.36,441.99 L306.75,442.03 L307.13,442.07 L307.52,442.11 L307.91,442.15 L308.29,442.19 L308.68,442.23 L309.07,442.28 L309.45,442.32 L309.84,442.36 L310.23,442.41 L310.61,442.45 L311.00,442.49 L311.39,442.54 L311.77,442.58 L312.16,442.63 L312.55,442.67 L312.93,442.72 L313.32,442.77 L313.71,442.81 L314.09,442.86 L314.48,442.90 L314.87,442.95 L315.25,443.00 L315.64,443.05 L316.03,443.09 L316.41,443.14 L316.80,443.19 L317.19,443.24 L317.57,443.29 L317.96,443.34 L318.35,443.38 L318.73,443.43 L319.12,443.48 L319.51,443.53 L319.89,443.58 L320.28,443.64 L320.67,443.69 L321.05,443.74 L321.44,443.79 L321.83,443.84 L322.21,443.89 L322.60,443.95 L322.99,444.00 L323.37,444.05 L323.76,444.11 L324.15,444.16 L324.53,444.22 L324.92,444.28 L325.31,444.34 L325.69,444.40 L326.08,444.46 L326.47,444.53 L326.85,444.60 L327.24,444.68 L327.63,444.77 L328.01,444.87 L328.40,444.97 L328.79,445.10 L329.17,445.24 L329.56,445.41 L329.95,445.61 L330.33,445.86 L330.72,446.15 L331.11,446.52 L331.49,446.96 L331.88,447.51 L332.27,448.20 L332.65,449.05 L333.04,450.10 L333.43,451.42 L333.81,453.06 L334.20,455.10 L334.20,440.60 Z" fill="#c6c6c6"/>
<line x1="222.80" y1="440.60" x2="334.60" y2="440.60" stroke="#9a9a9a" stroke-width="0.5" />
<text x="261.30" y="441.50" font-size="2.7" fill="#333" textLength="26.00" lengthAdjust="spacingAndGlyphs" >Zero cross at 12XXX</text>
<path d="M223.50,392.60 C224.08,392.22 225.85,392.40 227.00,390.30 C228.15,388.20 228.87,384.42 230.40,380.00 C231.93,375.58 234.10,368.43 236.20,363.80 C238.30,359.17 240.90,354.78 243.00,352.20 C245.10,349.62 246.47,348.87 248.80,348.30 C251.13,347.73 254.68,348.35 257.00,348.80 C259.32,349.25 260.40,349.27 262.70,351.00 C265.00,352.73 267.92,356.12 270.80,359.20 C273.68,362.28 276.92,366.23 280.00,369.50 C283.08,372.77 286.22,376.10 289.30,378.80 C292.38,381.50 296.22,384.03 298.50,385.70 C300.78,387.37 301.65,387.98 303.00,388.80 C304.35,389.62 305.60,390.37 306.60,390.60 C307.60,390.83 308.18,390.17 309.00,390.20 C309.82,390.23 310.67,390.33 311.50,390.80 C312.33,391.27 313.08,392.20 314.00,393.00 C314.92,393.80 316.00,394.93 317.00,395.60 C318.00,396.27 319.08,396.72 320.00,397.00 C320.92,397.28 321.75,397.38 322.50,397.30 C323.25,397.22 323.83,396.52 324.50,396.50 C325.17,396.48 325.83,397.25 326.50,397.20 C327.17,397.15 327.83,396.23 328.50,396.20 C329.17,396.17 329.92,397.00 330.50,397.00 C331.08,397.00 331.55,396.67 332.00,396.20 C332.45,395.73 333.00,394.53 333.20,394.20" fill="none" stroke="#74b62c" stroke-width="1.15" stroke-linejoin="round"/>
<rect x="222.80" y="345.70" width="117.80" height="112.90" fill="none" stroke="#111" stroke-width="1.4"/>
<line x1="219.40" y1="347.80" x2="222.80" y2="347.80" stroke="#111" stroke-width="0.9" />
<text x="216.80" y="350.30" font-size="7" fill="#2a2a2a" stroke="#2a2a2a" stroke-width="0.12" text-anchor="end" >0.35</text>
<line x1="219.40" y1="354.46" x2="222.80" y2="354.46" stroke="#111" stroke-width="0.9" />
<text x="216.80" y="356.96" font-size="7" fill="#2a2a2a" stroke="#2a2a2a" stroke-width="0.12" text-anchor="end" >0.30</text>
<line x1="219.40" y1="361.12" x2="222.80" y2="361.12" stroke="#111" stroke-width="0.9" />
<text x="216.80" y="363.62" font-size="7" fill="#2a2a2a" stroke="#2a2a2a" stroke-width="0.12" text-anchor="end" >0.25</text>
<line x1="219.40" y1="367.78" x2="222.80" y2="367.78" stroke="#111" stroke-width="0.9" />
<text x="216.80" y="370.28" font-size="7" fill="#2a2a2a" stroke="#2a2a2a" stroke-width="0.12" text-anchor="end" >0.20</text>
<line x1="219.40" y1="374.44" x2="222.80" y2="374.44" stroke="#111" stroke-width="0.9" />
<text x="216.80" y="376.94" font-size="7" fill="#2a2a2a" stroke="#2a2a2a" stroke-width="0.12" text-anchor="end" >0.15</text>
<line x1="219.40" y1="381.10" x2="222.80" y2="381.10" stroke="#111" stroke-width="0.9" />
<text x="216.80" y="383.60" font-size="7" fill="#2a2a2a" stroke="#2a2a2a" stroke-width="0.12" text-anchor="end" >0.10</text>
<line x1="219.40" y1="387.76" x2="222.80" y2="387.76" stroke="#111" stroke-width="0.9" />
<text x="216.80" y="390.26" font-size="7" fill="#2a2a2a" stroke="#2a2a2a" stroke-width="0.12" text-anchor="end" >0.05</text>
<line x1="219.40" y1="394.42" x2="222.80" y2="394.42" stroke="#111" stroke-width="0.9" />
<text x="216.80" y="396.92" font-size="7" fill="#2a2a2a" stroke="#2a2a2a" stroke-width="0.12" text-anchor="end" >0.00</text>
<text x="219.60" y="425.20" font-size="6.2" fill="#2a2a2a" stroke="#2a2a2a" stroke-width="0.12" text-anchor="end" transform="translate(0 0)">6</text>
<text x="219.60" y="431.15" font-size="6.2" fill="#2a2a2a" stroke="#2a2a2a" stroke-width="0.12" text-anchor="end" transform="translate(0 0)">4</text>
<text x="219.60" y="437.10" font-size="6.2" fill="#2a2a2a" stroke="#2a2a2a" stroke-width="0.12" text-anchor="end" transform="translate(0 0)">2</text>
<text x="219.60" y="443.05" font-size="6.2" fill="#2a2a2a" stroke="#2a2a2a" stroke-width="0.12" text-anchor="end" transform="translate(0 0)">0</text>
<text x="219.60" y="449.00" font-size="6.2" fill="#2a2a2a" stroke="#2a2a2a" stroke-width="0.12" text-anchor="end" transform="translate(0 0)">-2</text>
<text x="219.60" y="454.95" font-size="6.2" fill="#2a2a2a" stroke="#2a2a2a" stroke-width="0.12" text-anchor="end" transform="translate(0 0)">-4</text>
<line x1="222.80" y1="458.60" x2="222.80" y2="462.10" stroke="#111" stroke-width="1" />
<text x="0" y="0" font-size="7.2" fill="#2a2a2a" stroke="#2a2a2a" stroke-width="0.15" text-anchor="end" transform="translate(226.50 467.70) rotate(-45)">0</text>
<line x1="245.16" y1="458.60" x2="245.16" y2="462.10" stroke="#111" stroke-width="1" />
<text x="0" y="0" font-size="7.2" fill="#2a2a2a" stroke="#2a2a2a" stroke-width="0.15" text-anchor="end" transform="translate(248.86 467.70) rotate(-45)">5,000</text>
<line x1="267.52" y1="458.60" x2="267.52" y2="462.10" stroke="#111" stroke-width="1" />
<text x="0" y="0" font-size="7.2" fill="#2a2a2a" stroke="#2a2a2a" stroke-width="0.15" text-anchor="end" transform="translate(271.22 467.70) rotate(-45)">10,000</text>
<line x1="289.88" y1="458.60" x2="289.88" y2="462.10" stroke="#111" stroke-width="1" />
<text x="0" y="0" font-size="7.2" fill="#2a2a2a" stroke="#2a2a2a" stroke-width="0.15" text-anchor="end" transform="translate(293.58 467.70) rotate(-45)">15,000</text>
<line x1="312.24" y1="458.60" x2="312.24" y2="462.10" stroke="#111" stroke-width="1" />
<text x="0" y="0" font-size="7.2" fill="#2a2a2a" stroke="#2a2a2a" stroke-width="0.15" text-anchor="end" transform="translate(315.94 467.70) rotate(-45)">20,000</text>
<line x1="334.60" y1="458.60" x2="334.60" y2="462.10" stroke="#111" stroke-width="1" />
<text x="0" y="0" font-size="7.2" fill="#2a2a2a" stroke="#2a2a2a" stroke-width="0.15" text-anchor="end" transform="translate(338.30 467.70) rotate(-45)">25,000</text>
<text x="281.20" y="494.90" font-size="9.8" fill="#222" stroke="#222" stroke-width="0.12" text-anchor="middle" textLength="75.60" lengthAdjust="spacingAndGlyphs" >Rank in ordered dataset</text>
<text x="281.80" y="356.50" font-size="8.3" fill="#1a1a1a" stroke="#1a1a1a" stroke-width="0.12" style="white-space:pre">NES  2.0</text>
<text x="281.80" y="366.70" font-size="8.3" fill="#1a1a1a" stroke="#1a1a1a" stroke-width="0.12" style="white-space:pre">FDR  0</text>
<text x="187.30" y="371.30" font-size="9.8" fill="#2a2a2a" stroke="#2a2a2a" stroke-width="0.12" text-anchor="middle" textLength="36.80" lengthAdjust="spacingAndGlyphs" transform="rotate(-90 187.30 371.30)" >Enrichment</text>
<text x="197.00" y="371.00" font-size="9.8" fill="#2a2a2a" stroke="#2a2a2a" stroke-width="0.12" text-anchor="middle" textLength="30.60" lengthAdjust="spacingAndGlyphs" transform="rotate(-90 197.00 371.00)" >score (ES)</text>
<text x="198.00" y="438.20" font-size="9.8" fill="#2a2a2a" stroke="#2a2a2a" stroke-width="0.12" text-anchor="middle" textLength="57.00" lengthAdjust="spacingAndGlyphs" transform="rotate(-90 198.00 438.20)" >Ranked list metric</text>
<text x="206.10" y="438.25" font-size="9.8" fill="#2a2a2a" stroke="#2a2a2a" stroke-width="0.12" text-anchor="middle" textLength="39.50" lengthAdjust="spacingAndGlyphs" transform="rotate(-90 206.10 438.25)" >(PreRanked)</text>
<line x1="179.60" y1="506.50" x2="183.00" y2="506.50" stroke="#8cc060" stroke-width="0.9" />
<text x="186.10" y="508.80" font-size="6.6" fill="#2a2a2a" stroke="#2a2a2a" stroke-width="0.12" textLength="47.10" lengthAdjust="spacingAndGlyphs" >Enrichment profile</text>
<line x1="240.10" y1="506.50" x2="243.30" y2="506.50" stroke="#222" stroke-width="0.9" />
<text x="246.70" y="508.80" font-size="6.6" fill="#2a2a2a" stroke="#2a2a2a" stroke-width="0.12" textLength="9.60" lengthAdjust="spacingAndGlyphs" >Hits</text>
<line x1="262.30" y1="506.50" x2="265.30" y2="506.50" stroke="#999" stroke-width="0.8" />
<line x1="267.30" y1="506.50" x2="270.30" y2="506.50" stroke="#999" stroke-width="0.8" />
<text x="274.60" y="508.80" font-size="6.6" fill="#2a2a2a" stroke="#2a2a2a" stroke-width="0.12" textLength="55.70" lengthAdjust="spacingAndGlyphs" >Ranking metric scores</text>
<text x="352.00" y="321.90" font-size="12" fill="#000" stroke="#000" stroke-width="0.12" font-weight="bold" >D</text>
<text x="453.70" y="329.50" font-size="8.6" fill="#222" stroke="#222" stroke-width="0.12" text-anchor="middle" textLength="57.60" lengthAdjust="spacingAndGlyphs" >Apoptosis DN</text>
<text x="453.70" y="340.10" font-size="8.6" fill="#222" stroke="#222" stroke-width="0.12" text-anchor="middle" textLength="62.00" lengthAdjust="spacingAndGlyphs" >(FX1 vs DMSO)</text>
<line x1="417.16" y1="346.10" x2="417.16" y2="400.80" stroke="#f0f0f0" stroke-width="0.6" />
<line x1="417.16" y1="422.80" x2="417.16" y2="458.50" stroke="#f0f0f0" stroke-width="0.6" />
<line x1="439.52" y1="346.10" x2="439.52" y2="400.80" stroke="#f0f0f0" stroke-width="0.6" />
<line x1="439.52" y1="422.80" x2="439.52" y2="458.50" stroke="#f0f0f0" stroke-width="0.6" />
<line x1="461.88" y1="346.10" x2="461.88" y2="400.80" stroke="#f0f0f0" stroke-width="0.6" />
<line x1="461.88" y1="422.80" x2="461.88" y2="458.50" stroke="#f0f0f0" stroke-width="0.6" />
<line x1="484.24" y1="346.10" x2="484.24" y2="400.80" stroke="#f0f0f0" stroke-width="0.6" />
<line x1="484.24" y1="422.80" x2="484.24" y2="458.50" stroke="#f0f0f0" stroke-width="0.6" />
<line x1="506.60" y1="346.10" x2="506.60" y2="400.80" stroke="#f0f0f0" stroke-width="0.6" />
<line x1="506.60" y1="422.80" x2="506.60" y2="458.50" stroke="#f0f0f0" stroke-width="0.6" />
<line x1="394.80" y1="352.70" x2="512.60" y2="352.70" stroke="#f0f0f0" stroke-width="0.6" />
<line x1="394.80" y1="362.58" x2="512.60" y2="362.58" stroke="#f0f0f0" stroke-width="0.6" />
<line x1="394.80" y1="372.46" x2="512.60" y2="372.46" stroke="#f0f0f0" stroke-width="0.6" />
<line x1="394.80" y1="382.34" x2="512.60" y2="382.34" stroke="#f0f0f0" stroke-width="0.6" />
<line x1="394.80" y1="392.22" x2="512.60" y2="392.22" stroke="#f0f0f0" stroke-width="0.6" />
<line x1="394.80" y1="352.60" x2="512.60" y2="352.60" stroke="#dadada" stroke-width="0.8" />
<line x1="394.80" y1="423.50" x2="512.60" y2="423.50" stroke="#f0f0f0" stroke-width="0.5" />
<line x1="394.80" y1="429.45" x2="512.60" y2="429.45" stroke="#f0f0f0" stroke-width="0.5" />
<line x1="394.80" y1="435.40" x2="512.60" y2="435.40" stroke="#f0f0f0" stroke-width="0.5" />
<line x1="394.80" y1="441.35" x2="512.60" y2="441.35" stroke="#f0f0f0" stroke-width="0.5" />
<line x1="394.80" y1="447.30" x2="512.60" y2="447.30" stroke="#f0f0f0" stroke-width="0.5" />
<line x1="394.80" y1="453.25" x2="512.60" y2="453.25" stroke="#f0f0f0" stroke-width="0.5" />
<rect x="395.40" y="400.80" width="4.20" height="17.30" fill="#999" />
<rect x="401.50" y="400.80" width="2.00" height="17.30" fill="#bbb" />
<rect x="403.50" y="400.80" width="1.50" height="17.30" fill="#eee" />
<rect x="405.00" y="400.80" width="2.00" height="17.30" fill="#aaa" />
<rect x="408.00" y="400.80" width="2.80" height="17.30" fill="#888" />
<rect x="412.30" y="400.80" width="1.50" height="17.30" fill="#ccc" />
<rect x="413.80" y="400.80" width="2.70" height="17.30" fill="#999" />
<rect x="418.80" y="400.80" width="3.10" height="17.30" fill="#ccc" />
<rect x="423.10" y="400.80" width="1.90" height="17.30" fill="#666" />
<rect x="425.00" y="400.80" width="1.20" height="17.30" fill="#ddd" />
<rect x="426.20" y="400.80" width="1.10" height="17.30" fill="#888" />
<rect x="427.30" y="400.80" width="3.50" height="17.30" fill="#ccc" />
<rect x="430.80" y="400.80" width="2.30" height="17.30" fill="#666" />
<rect x="433.10" y="400.80" width="2.30" height="17.30" fill="#eee" />
<rect x="435.40" y="400.80" width="1.50" height="17.30" fill="#888" />
<rect x="436.90" y="400.80" width="1.90" height="17.30" fill="#ddd" />
<rect x="441.20" y="400.80" width="2.60" height="17.30" fill="#777" />
<rect x="443.80" y="400.80" width="1.60" height="17.30" fill="#ccc" />
<rect x="445.40" y="400.80" width="1.90" height="17.30" fill="#999" />
<rect x="450.00" y="400.80" width="1.20" height="17.30" fill="#555" />
<rect x="453.80" y="400.80" width="2.40" height="17.30" fill="#777" />
<rect x="456.20" y="400.80" width="1.10" height="17.30" fill="#ddd" />
<rect x="457.30" y="400.80" width="1.20" height="17.30" fill="#888" />
<rect x="459.20" y="400.80" width="1.10" height="17.30" fill="#777" />
<rect x="460.30" y="400.80" width="0.70" height="17.30" fill="#bbb" />
<rect x="461.00" y="400.80" width="1.60" height="17.30" fill="#777" />
<rect x="462.60" y="400.80" width="2.30" height="17.30" fill="#bbb" />
<rect x="464.90" y="400.80" width="2.70" height="17.30" fill="#888" />
<rect x="467.60" y="400.80" width="3.10" height="17.30" fill="#666" />
<rect x="471.80" y="400.80" width="2.00" height="17.30" fill="#999" />
<rect x="474.90" y="400.80" width="1.20" height="17.30" fill="#555" />
<rect x="476.10" y="400.80" width="2.70" height="17.30" fill="#bbb" />
<rect x="480.00" y="400.80" width="3.40" height="17.30" fill="#555" />
<rect x="483.40" y="400.80" width="3.80" height="17.30" fill="#888" />
<rect x="487.20" y="400.80" width="1.20" height="17.30" fill="#aaa" />
<rect x="488.40" y="400.80" width="3.40" height="17.30" fill="#555" />
<rect x="491.80" y="400.80" width="3.10" height="17.30" fill="#777" />
<rect x="494.90" y="400.80" width="1.10" height="17.30" fill="#aaa" />
<rect x="496.00" y="400.80" width="2.50" height="17.30" fill="#555" />
<rect x="498.50" y="400.80" width="2.50" height="17.30" fill="#666" />
<rect x="501.00" y="400.80" width="2.50" height="17.30" fill="#444" />
<rect x="503.50" y="400.80" width="3.00" height="17.30" fill="#4a4a4a" />
<rect x="395.00" y="418.10" width="21.20" height="4.70" fill="#d03444" />
<rect x="416.00" y="418.10" width="9.20" height="4.70" fill="#d85c6e" />
<rect x="425.00" y="418.10" width="10.20" height="4.70" fill="#e08292" />
<rect x="435.00" y="418.10" width="12.20" height="4.70" fill="#e4b8dc" />
<rect x="447.00" y="418.10" width="11.20" height="4.70" fill="#d4d2f0" />
<rect x="458.00" y="418.10" width="13.70" height="4.70" fill="#ccc6ec" />
<rect x="471.50" y="418.10" width="10.70" height="4.70" fill="#7268c0" />
<rect x="482.00" y="418.10" width="15.20" height="4.70" fill="#5a4ab0" />
<rect x="497.00" y="418.10" width="9.70" height="4.70" fill="#3c2c9c" />
<text x="396.00" y="425.80" font-size="2.7" fill="#d02828" textLength="40.00" lengthAdjust="spacingAndGlyphs" >&#x27;na_pos&#x27; (positively correlated)</text>
<text x="453.50" y="456.50" font-size="2.7" fill="#3030c8" textLength="42.50" lengthAdjust="spacingAndGlyphs" >&#x27;na_neg&#x27; (negatively correlated)</text>
<path d="M394.80,441.00 L394.80,434.20 L395.50,435.04 L396.20,435.69 L396.90,436.21 L397.60,436.64 L398.30,437.00 L399.00,437.30 L399.70,437.57 L400.40,437.79 L401.10,437.99 L401.80,438.17 L402.50,438.32 L403.20,438.46 L403.90,438.59 L404.60,438.70 L405.30,438.81 L406.00,438.90 L406.70,438.99 L407.40,439.07 L408.10,439.14 L408.80,439.21 L409.50,439.27 L410.20,439.33 L410.90,439.39 L411.60,439.44 L412.30,439.49 L413.00,439.53 L413.70,439.58 L414.40,439.62 L415.10,439.66 L415.80,439.69 L416.50,439.73 L417.20,439.76 L417.90,439.79 L418.60,439.82 L419.30,439.85 L420.00,439.87 L420.70,439.90 L421.40,439.92 L422.10,439.95 L422.80,439.97 L423.50,439.99 L424.20,440.01 L424.90,440.03 L425.60,440.05 L426.30,440.07 L427.00,440.09 L427.70,440.10 L428.40,440.12 L429.10,440.13 L429.80,440.15 L430.50,440.16 L431.20,440.18 L431.90,440.19 L432.60,440.21 L433.30,440.22 L434.00,440.23 L434.70,440.24 L435.40,440.25 L436.10,440.27 L436.80,440.28 L437.50,440.29 L438.20,440.30 L438.90,440.31 L439.60,440.32 L440.30,440.33 L441.00,440.34 L441.70,440.34 L442.40,440.35 L443.10,440.36 L443.80,440.37 L444.50,440.38 L445.20,440.39 L445.90,440.39 L446.60,440.40 L447.30,440.41 L448.00,440.42 L448.70,440.42 L449.40,440.43 L450.10,440.44 L450.80,440.44 L451.50,440.45 L452.20,440.46 L452.90,440.46 L453.60,440.47 L454.30,440.47 L455.00,440.48 L455.70,440.48 L456.40,440.49 L457.10,440.49 L457.80,440.50 L458.50,440.51 L459.20,440.51 L459.90,440.51 L459.80,441.00 Z" fill="#c6c6c6"/>
<path d="M459.80,441.00 L459.80,441.00 L460.19,441.01 L460.57,441.02 L460.96,441.03 L461.35,441.05 L461.73,441.07 L462.12,441.09 L462.51,441.11 L462.89,441.14 L463.28,441.16 L463.67,441.19 L464.05,441.21 L464.44,441.24 L464.83,441.27 L465.21,441.30 L465.60,441.33 L465.99,441.36 L466.37,441.39 L466.76,441.42 L467.15,441.45 L467.53,441.49 L467.92,441.52 L468.31,441.56 L468.69,441.59 L469.08,441.63 L469.47,441.67 L469.85,441.71 L470.24,441.74 L470.63,441.78 L471.01,441.82 L471.40,441.86 L471.79,441.90 L472.17,441.94 L472.56,441.98 L472.95,442.03 L473.33,442.07 L473.72,442.11 L474.11,442.16 L474.49,442.20 L474.88,442.24 L475.27,442.29 L475.65,442.33 L476.04,442.38 L476.43,442.43 L476.81,442.47 L477.20,442.52 L477.59,442.57 L477.97,442.62 L478.36,442.66 L478.75,442.71 L479.13,442.76 L479.52,442.81 L479.91,442.86 L480.29,442.91 L480.68,442.96 L481.07,443.01 L481.45,443.06 L481.84,443.12 L482.23,443.17 L482.61,443.22 L483.00,443.27 L483.39,443.33 L483.77,443.38 L484.16,443.43 L484.55,443.49 L484.93,443.54 L485.32,443.60 L485.71,443.65 L486.09,443.71 L486.48,443.76 L486.87,443.82 L487.25,443.88 L487.64,443.93 L488.03,443.99 L488.41,444.05 L488.80,444.11 L489.19,444.17 L489.57,444.22 L489.96,444.28 L490.35,444.34 L490.73,444.40 L491.12,444.46 L491.51,444.52 L491.89,444.58 L492.28,444.64 L492.67,444.70 L493.05,444.76 L493.44,444.83 L493.83,444.89 L494.21,444.95 L494.60,445.01 L494.99,445.08 L495.37,445.14 L495.76,445.21 L496.15,445.27 L496.53,445.34 L496.92,445.41 L497.31,445.48 L497.69,445.55 L498.08,445.62 L498.47,445.70 L498.85,445.78 L499.24,445.87 L499.63,445.96 L500.01,446.07 L500.40,446.18 L500.79,446.31 L501.17,446.45 L501.56,446.62 L501.95,446.82 L502.33,447.06 L502.72,447.34 L503.11,447.68 L503.49,448.10 L503.88,448.61 L504.27,449.23 L504.65,450.01 L505.04,450.97 L505.43,452.17 L505.81,453.65 L506.20,455.50 L506.20,441.00 Z" fill="#c6c6c6"/>
<line x1="394.80" y1="441.00" x2="506.60" y2="441.00" stroke="#9a9a9a" stroke-width="0.5" />
<text x="433.30" y="441.90" font-size="2.7" fill="#333" textLength="26.00" lengthAdjust="spacingAndGlyphs" >Zero cross at 12XXX</text>
<path d="M394.80,352.20 L394.94,352.05 L395.80,350.85 L397.23,349.66 L398.65,348.49 L399.94,348.33 L401.17,348.88 L402.40,350.10 L403.60,350.85 L404.82,351.40 L406.13,351.85 L407.36,351.66 L408.67,351.34 L409.99,351.60 L411.17,352.10 L412.12,352.28 L413.24,353.57 L415.00,354.31 L415.95,354.88 L417.05,355.37 L418.26,356.73 L419.55,357.29 L420.09,357.44 L420.36,357.59 L420.63,357.75 L420.90,357.91 L421.18,358.07 L421.45,358.24 L421.73,358.40 L422.01,358.57 L422.29,358.73 L422.56,358.90 L422.84,359.07 L423.12,359.24 L423.40,359.41 L423.67,359.58 L423.95,359.75 L424.22,359.92 L424.49,360.10 L424.77,360.27 L425.03,360.45 L425.30,360.62 L425.57,360.80 L425.83,360.97 L426.09,361.15 L426.35,361.32 L426.60,361.50 L426.85,361.68 L427.10,361.86 L427.36,362.04 L427.61,362.22 L427.86,362.40 L428.11,362.58 L428.37,362.77 L428.62,362.96 L428.87,363.14 L429.12,363.33 L429.38,363.52 L429.63,363.72 L429.88,363.91 L430.13,364.10 L430.39,364.30 L430.64,364.49 L430.89,364.69 L431.14,364.89 L431.40,365.09 L431.65,365.29 L431.90,365.49 L432.15,365.69 L432.41,365.89 L432.66,366.10 L432.91,366.30 L433.16,366.51 L433.42,366.71 L433.67,366.92 L433.92,367.12 L434.17,367.33 L434.42,367.54 L434.68,367.75 L434.93,367.96 L435.18,368.17 L435.43,368.38 L435.68,368.59 L435.94,368.80 L436.19,369.01 L436.44,369.22 L436.69,369.43 L436.94,369.64 L437.19,369.85 L437.45,370.06 L437.70,370.28 L437.95,370.49 L438.20,370.70 L438.45,370.91 L438.70,371.13 L438.95,371.34 L439.20,371.56 L439.45,371.78 L439.70,372.00 L439.95,372.23 L440.20,372.45 L440.45,372.68 L440.70,372.90 L440.95,373.13 L441.20,373.36 L441.45,373.59 L441.70,373.82 L441.95,374.05 L442.20,374.28 L442.45,374.52 L442.70,374.75 L442.95,374.98 L443.20,375.21 L443.45,375.45 L443.70,375.68 L443.95,375.91 L444.20,376.14 L444.45,376.38 L444.70,376.61 L444.95,376.84 L445.20,377.07 L445.45,377.30 L445.70,377.53 L445.95,377.76 L446.20,377.98 L446.45,378.21 L446.70,378.44 L446.95,378.66 L447.20,378.88 L447.45,379.10 L447.70,379.32 L447.95,379.54 L448.20,379.75 L448.45,379.97 L448.70,380.18 L448.95,380.39 L449.20,380.59 L449.45,380.80 L449.70,381.00 L449.95,381.20 L450.20,381.40 L450.46,381.60 L450.71,381.81 L450.97,382.01 L451.23,382.21 L451.48,382.41 L451.74,382.61 L452.00,382.81 L452.26,383.01 L452.52,383.21 L452.78,383.41 L453.04,383.61 L453.30,383.80 L453.56,384.00 L453.82,384.20 L454.08,384.39 L454.34,384.58 L454.60,384.78 L454.86,384.97 L455.12,385.16 L455.38,385.34 L455.64,385.53 L455.90,385.72 L456.16,385.90 L456.42,386.08 L456.67,386.26 L456.93,386.44 L457.18,386.61 L457.44,386.79 L457.69,386.96 L457.94,387.13 L458.19,387.29 L458.44,387.46 L458.69,387.62 L458.94,387.78 L459.18,387.93 L459.42,388.08 L459.67,388.24 L459.90,388.38 L460.14,388.53 L460.38,388.67 L460.61,388.81 L460.84,388.94 L461.07,389.07 L461.30,389.20 L461.59,389.36 L461.87,389.51 L462.15,389.65 L462.43,389.78 L462.70,389.91 L462.97,390.03 L463.24,390.14 L463.51,390.25 L463.77,390.36 L464.03,390.46 L464.29,390.55 L464.54,390.64 L464.80,390.73 L465.05,390.81 L465.30,390.89 L465.55,390.97 L465.80,391.04 L466.05,391.12 L466.30,391.19 L466.54,391.26 L466.79,391.33 L467.03,391.41 L467.28,391.48 L467.52,391.55 L467.77,391.62 L468.01,391.70 L468.26,391.77 L468.50,391.85 L468.75,391.93 L468.99,392.01 L469.24,392.10 L469.49,392.19 L469.74,392.29 L469.99,392.39 L470.25,392.49 L470.50,392.60 L470.76,392.72 L471.02,392.84 L471.28,392.97 L471.55,393.10 L471.82,393.24 L472.09,393.38 L472.36,393.53 L472.63,393.68 L472.91,393.83 L473.18,393.99 L473.46,394.15 L473.73,394.31 L474.01,394.47 L474.29,394.63 L474.56,394.79 L474.84,394.95 L475.11,395.11 L475.38,395.27 L475.65,395.42 L475.92,395.58 L476.19,395.73 L476.45,395.88 L476.71,396.02 L476.97,396.16 L477.22,396.29 L477.47,396.42 L477.72,396.54 L477.96,396.66 L478.20,396.77 L478.43,396.87 L478.65,396.97 L478.88,397.05 L479.09,397.13 L479.30,397.20 L479.50,397.25 L479.70,397.30 L480.07,397.37 L480.41,397.41 L480.72,397.42 L481.00,397.41 L481.27,397.37 L481.52,397.31 L481.75,397.24 L481.98,397.14 L482.19,397.37 L483.29,396.40 L484.62,395.06 L485.83,394.63 L487.17,393.97 L488.55,392.72 L489.88,392.53 L491.08,391.07 L492.48,389.52 L493.74,388.57 L494.92,386.43 L496.16,385.85 L497.47,384.57 L498.79,383.94 L500.04,382.69 L501.36,380.55 L502.69,376.81 L503.81,373.19 L505.17,369.08 L506.59,354.60 L506.80,352.20" fill="none" stroke="#74b62c" stroke-width="1.1" stroke-linejoin="round"/>
<rect x="394.80" y="346.10" width="117.80" height="112.40" fill="none" stroke="#111" stroke-width="1.4"/>
<line x1="391.40" y1="352.70" x2="394.80" y2="352.70" stroke="#111" stroke-width="0.9" />
<text x="388.80" y="355.20" font-size="7" fill="#2a2a2a" stroke="#2a2a2a" stroke-width="0.12" text-anchor="end" >0.0</text>
<line x1="391.40" y1="362.58" x2="394.80" y2="362.58" stroke="#111" stroke-width="0.9" />
<text x="388.80" y="365.08" font-size="7" fill="#2a2a2a" stroke="#2a2a2a" stroke-width="0.12" text-anchor="end" >-0.1</text>
<line x1="391.40" y1="372.46" x2="394.80" y2="372.46" stroke="#111" stroke-width="0.9" />
<text x="388.80" y="374.96" font-size="7" fill="#2a2a2a" stroke="#2a2a2a" stroke-width="0.12" text-anchor="end" >-0.2</text>
<line x1="391.40" y1="382.34" x2="394.80" y2="382.34" stroke="#111" stroke-width="0.9" />
<text x="388.80" y="384.84" font-size="7" fill="#2a2a2a" stroke="#2a2a2a" stroke-width="0.12" text-anchor="end" >-0.3</text>
<line x1="391.40" y1="392.22" x2="394.80" y2="392.22" stroke="#111" stroke-width="0.9" />
<text x="388.80" y="394.72" font-size="7" fill="#2a2a2a" stroke="#2a2a2a" stroke-width="0.12" text-anchor="end" >-0.4</text>
<text x="391.60" y="425.60" font-size="6.2" fill="#2a2a2a" stroke="#2a2a2a" stroke-width="0.12" text-anchor="end" transform="translate(0 0)">6</text>
<text x="391.60" y="431.55" font-size="6.2" fill="#2a2a2a" stroke="#2a2a2a" stroke-width="0.12" text-anchor="end" transform="translate(0 0)">4</text>
<text x="391.60" y="437.50" font-size="6.2" fill="#2a2a2a" stroke="#2a2a2a" stroke-width="0.12" text-anchor="end" transform="translate(0 0)">2</text>
<text x="391.60" y="443.45" font-size="6.2" fill="#2a2a2a" stroke="#2a2a2a" stroke-width="0.12" text-anchor="end" transform="translate(0 0)">0</text>
<text x="391.60" y="449.40" font-size="6.2" fill="#2a2a2a" stroke="#2a2a2a" stroke-width="0.12" text-anchor="end" transform="translate(0 0)">-2</text>
<text x="391.60" y="455.35" font-size="6.2" fill="#2a2a2a" stroke="#2a2a2a" stroke-width="0.12" text-anchor="end" transform="translate(0 0)">-4</text>
<line x1="394.80" y1="458.50" x2="394.80" y2="462.00" stroke="#111" stroke-width="1" />
<text x="0" y="0" font-size="7.2" fill="#2a2a2a" stroke="#2a2a2a" stroke-width="0.15" text-anchor="end" transform="translate(398.50 467.60) rotate(-45)">0</text>
<line x1="417.16" y1="458.50" x2="417.16" y2="462.00" stroke="#111" stroke-width="1" />
<text x="0" y="0" font-size="7.2" fill="#2a2a2a" stroke="#2a2a2a" stroke-width="0.15" text-anchor="end" transform="translate(420.86 467.60) rotate(-45)">5,000</text>
<line x1="439.52" y1="458.50" x2="439.52" y2="462.00" stroke="#111" stroke-width="1" />
<text x="0" y="0" font-size="7.2" fill="#2a2a2a" stroke="#2a2a2a" stroke-width="0.15" text-anchor="end" transform="translate(443.22 467.60) rotate(-45)">10,000</text>
<line x1="461.88" y1="458.50" x2="461.88" y2="462.00" stroke="#111" stroke-width="1" />
<text x="0" y="0" font-size="7.2" fill="#2a2a2a" stroke="#2a2a2a" stroke-width="0.15" text-anchor="end" transform="translate(465.58 467.60) rotate(-45)">15,000</text>
<line x1="484.24" y1="458.50" x2="484.24" y2="462.00" stroke="#111" stroke-width="1" />
<text x="0" y="0" font-size="7.2" fill="#2a2a2a" stroke="#2a2a2a" stroke-width="0.15" text-anchor="end" transform="translate(487.94 467.60) rotate(-45)">20,000</text>
<line x1="506.60" y1="458.50" x2="506.60" y2="462.00" stroke="#111" stroke-width="1" />
<text x="0" y="0" font-size="7.2" fill="#2a2a2a" stroke="#2a2a2a" stroke-width="0.15" text-anchor="end" transform="translate(510.30 467.60) rotate(-45)">25,000</text>
<text x="453.20" y="494.80" font-size="9.8" fill="#222" stroke="#222" stroke-width="0.12" text-anchor="middle" textLength="75.60" lengthAdjust="spacingAndGlyphs" >Rank in ordered dataset</text>
<text x="454.60" y="360.50" font-size="8.3" fill="#1a1a1a" stroke="#1a1a1a" stroke-width="0.12" style="white-space:pre">NES  -1.9</text>
<text x="454.60" y="370.70" font-size="8.3" fill="#1a1a1a" stroke="#1a1a1a" stroke-width="0.12" style="white-space:pre">FDR  0</text>
<text x="360.60" y="372.35" font-size="9.8" fill="#2a2a2a" stroke="#2a2a2a" stroke-width="0.12" text-anchor="middle" textLength="36.80" lengthAdjust="spacingAndGlyphs" transform="rotate(-90 360.60 372.35)" >Enrichment</text>
<text x="370.30" y="372.55" font-size="9.8" fill="#2a2a2a" stroke="#2a2a2a" stroke-width="0.12" text-anchor="middle" textLength="30.60" lengthAdjust="spacingAndGlyphs" transform="rotate(-90 370.30 372.55)" >score (ES)</text>
<text x="369.50" y="437.70" font-size="9.8" fill="#2a2a2a" stroke="#2a2a2a" stroke-width="0.12" text-anchor="middle" textLength="57.00" lengthAdjust="spacingAndGlyphs" transform="rotate(-90 369.50 437.70)" >Ranked list metric</text>
<text x="377.70" y="437.65" font-size="9.8" fill="#2a2a2a" stroke="#2a2a2a" stroke-width="0.12" text-anchor="middle" textLength="39.50" lengthAdjust="spacingAndGlyphs" transform="rotate(-90 377.70 437.65)" >(PreRanked)</text>
<line x1="352.40" y1="506.40" x2="355.80" y2="506.40" stroke="#8cc060" stroke-width="0.9" />
<text x="358.90" y="508.70" font-size="6.6" fill="#2a2a2a" stroke="#2a2a2a" stroke-width="0.12" textLength="47.10" lengthAdjust="spacingAndGlyphs" >Enrichment profile</text>
<line x1="412.90" y1="506.40" x2="416.10" y2="506.40" stroke="#222" stroke-width="0.9" />
<text x="419.50" y="508.70" font-size="6.6" fill="#2a2a2a" stroke="#2a2a2a" stroke-width="0.12" textLength="9.60" lengthAdjust="spacingAndGlyphs" >Hits</text>
<line x1="435.10" y1="506.40" x2="438.10" y2="506.40" stroke="#999" stroke-width="0.8" />
<line x1="440.10" y1="506.40" x2="443.10" y2="506.40" stroke="#999" stroke-width="0.8" />
<text x="447.40" y="508.70" font-size="6.6" fill="#2a2a2a" stroke="#2a2a2a" stroke-width="0.12" textLength="55.70" lengthAdjust="spacingAndGlyphs" >Ranking metric scores</text>
<text x="7.70" y="530.20" font-size="12" fill="#000" stroke="#000" stroke-width="0.12" font-weight="bold" >E</text>
<text x="109.40" y="538.00" font-size="8.6" fill="#222" stroke="#222" stroke-width="0.12" text-anchor="middle" textLength="51.00" lengthAdjust="spacingAndGlyphs" >FX1 Induced</text>
<text x="109.40" y="548.60" font-size="8.6" fill="#222" stroke="#222" stroke-width="0.12" text-anchor="middle" textLength="62.00" lengthAdjust="spacingAndGlyphs" >(FX1 vs DMSO)</text>
<line x1="72.86" y1="554.60" x2="72.86" y2="609.40" stroke="#f0f0f0" stroke-width="0.6" />
<line x1="72.86" y1="630.80" x2="72.86" y2="667.20" stroke="#f0f0f0" stroke-width="0.6" />
<line x1="95.22" y1="554.60" x2="95.22" y2="609.40" stroke="#f0f0f0" stroke-width="0.6" />
<line x1="95.22" y1="630.80" x2="95.22" y2="667.20" stroke="#f0f0f0" stroke-width="0.6" />
<line x1="117.58" y1="554.60" x2="117.58" y2="609.40" stroke="#f0f0f0" stroke-width="0.6" />
<line x1="117.58" y1="630.80" x2="117.58" y2="667.20" stroke="#f0f0f0" stroke-width="0.6" />
<line x1="139.94" y1="554.60" x2="139.94" y2="609.40" stroke="#f0f0f0" stroke-width="0.6" />
<line x1="139.94" y1="630.80" x2="139.94" y2="667.20" stroke="#f0f0f0" stroke-width="0.6" />
<line x1="162.30" y1="554.60" x2="162.30" y2="609.40" stroke="#f0f0f0" stroke-width="0.6" />
<line x1="162.30" y1="630.80" x2="162.30" y2="667.20" stroke="#f0f0f0" stroke-width="0.6" />
<line x1="50.50" y1="556.50" x2="168.30" y2="556.50" stroke="#f0f0f0" stroke-width="0.6" />
<line x1="50.50" y1="566.06" x2="168.30" y2="566.06" stroke="#f0f0f0" stroke-width="0.6" />
<line x1="50.50" y1="575.62" x2="168.30" y2="575.62" stroke="#f0f0f0" stroke-width="0.6" />
<line x1="50.50" y1="585.18" x2="168.30" y2="585.18" stroke="#f0f0f0" stroke-width="0.6" />
<line x1="50.50" y1="594.74" x2="168.30" y2="594.74" stroke="#f0f0f0" stroke-width="0.6" />
<line x1="50.50" y1="604.30" x2="168.30" y2="604.30" stroke="#f0f0f0" stroke-width="0.6" />
<line x1="50.50" y1="604.30" x2="168.30" y2="604.30" stroke="#dadada" stroke-width="0.8" />
<line x1="50.50" y1="639.00" x2="168.30" y2="639.00" stroke="#f0f0f0" stroke-width="0.5" />
<line x1="50.50" y1="648.70" x2="168.30" y2="648.70" stroke="#f0f0f0" stroke-width="0.5" />
<line x1="50.50" y1="658.70" x2="168.30" y2="658.70" stroke="#f0f0f0" stroke-width="0.5" />
<rect x="51.00" y="609.40" width="67.20" height="16.70" fill="#161616" />
<rect x="59.70" y="609.40" width="0.60" height="16.70" fill="#262626" />
<rect x="74.70" y="609.40" width="0.60" height="16.70" fill="#262626" />
<rect x="91.70" y="609.40" width="0.60" height="16.70" fill="#262626" />
<rect x="105.70" y="609.40" width="0.60" height="16.70" fill="#2a2a2a" />
<rect x="118.20" y="609.40" width="1.10" height="16.70" fill="#333" />
<rect x="119.30" y="609.40" width="3.50" height="16.70" fill="#161616" />
<rect x="122.80" y="609.40" width="1.10" height="16.70" fill="#555" />
<rect x="123.90" y="609.40" width="8.90" height="16.70" fill="#1a1a1a" />
<rect x="132.80" y="609.40" width="1.70" height="16.70" fill="#6a6a6a" />
<rect x="134.50" y="609.40" width="6.30" height="16.70" fill="#161616" />
<rect x="140.80" y="609.40" width="8.00" height="16.70" fill="#4e4e4e" />
<rect x="143.70" y="609.40" width="0.60" height="16.70" fill="#666" />
<rect x="148.80" y="609.40" width="6.60" height="16.70" fill="#161616" />
<rect x="155.40" y="609.40" width="1.10" height="16.70" fill="#555" />
<rect x="156.50" y="609.40" width="4.30" height="16.70" fill="#1e1e1e" />
<rect x="160.80" y="609.40" width="2.30" height="16.70" fill="#aaa" />
<rect x="51.00" y="626.10" width="35.20" height="4.70" fill="#3c1418" />
<rect x="86.00" y="626.10" width="14.20" height="4.70" fill="#6a4a66" />
<rect x="100.00" y="626.10" width="34.50" height="4.70" fill="#aaa2d2" />
<rect x="134.30" y="626.10" width="15.90" height="4.70" fill="#5a4cb0" />
<rect x="150.00" y="626.10" width="10.20" height="4.70" fill="#4a3ca8" />
<rect x="160.00" y="626.10" width="3.30" height="4.70" fill="#2c1c90" />
<rect x="84.66" y="626.10" width="0.50" height="4.70" fill="#b02830" fill-opacity="0.33"/>
<rect x="68.63" y="626.10" width="0.70" height="4.70" fill="#b02830" fill-opacity="0.25"/>
<rect x="82.62" y="626.10" width="0.50" height="4.70" fill="#b02830" fill-opacity="0.35"/>
<rect x="78.48" y="626.10" width="0.50" height="4.70" fill="#b02830" fill-opacity="0.34"/>
<rect x="66.12" y="626.10" width="0.50" height="4.70" fill="#b02830" fill-opacity="0.18"/>
<rect x="64.32" y="626.10" width="0.50" height="4.70" fill="#b02830" fill-opacity="0.22"/>
<rect x="56.47" y="626.10" width="0.70" height="4.70" fill="#b02830" fill-opacity="0.22"/>
<rect x="60.44" y="626.10" width="0.70" height="4.70" fill="#b02830" fill-opacity="0.25"/>
<rect x="80.50" y="626.10" width="0.90" height="4.70" fill="#b02830" fill-opacity="0.33"/>
<rect x="83.60" y="626.10" width="0.90" height="4.70" fill="#b02830" fill-opacity="0.24"/>
<rect x="81.70" y="626.10" width="0.70" height="4.70" fill="#b02830" fill-opacity="0.27"/>
<rect x="55.89" y="626.10" width="0.90" height="4.70" fill="#b02830" fill-opacity="0.29"/>
<rect x="75.20" y="626.10" width="0.70" height="4.70" fill="#b02830" fill-opacity="0.19"/>
<rect x="57.35" y="626.10" width="0.90" height="4.70" fill="#b02830" fill-opacity="0.25"/>
<rect x="70.35" y="626.10" width="0.90" height="4.70" fill="#b02830" fill-opacity="0.25"/>
<rect x="51.98" y="626.10" width="0.50" height="4.70" fill="#b02830" fill-opacity="0.21"/>
<rect x="75.79" y="626.10" width="0.70" height="4.70" fill="#b02830" fill-opacity="0.25"/>
<rect x="52.44" y="626.10" width="0.50" height="4.70" fill="#c02830" fill-opacity="0.35"/>
<rect x="51.73" y="626.10" width="0.90" height="4.70" fill="#c02830" fill-opacity="0.32"/>
<rect x="53.58" y="626.10" width="0.90" height="4.70" fill="#c02830" fill-opacity="0.31"/>
<rect x="51.61" y="626.10" width="0.50" height="4.70" fill="#c02830" fill-opacity="0.35"/>
<rect x="123.00" y="626.10" width="0.50" height="4.70" fill="#3a2a60" fill-opacity="0.23"/>
<rect x="125.44" y="626.10" width="0.50" height="4.70" fill="#3a2a60" fill-opacity="0.27"/>
<rect x="107.47" y="626.10" width="0.50" height="4.70" fill="#3a2a60" fill-opacity="0.27"/>
<rect x="97.33" y="626.10" width="0.90" height="4.70" fill="#3a2a60" fill-opacity="0.27"/>
<rect x="117.90" y="626.10" width="0.70" height="4.70" fill="#3a2a60" fill-opacity="0.23"/>
<rect x="117.81" y="626.10" width="0.50" height="4.70" fill="#3a2a60" fill-opacity="0.25"/>
<rect x="124.88" y="626.10" width="0.50" height="4.70" fill="#3a2a60" fill-opacity="0.26"/>
<rect x="128.77" y="626.10" width="0.70" height="4.70" fill="#3a2a60" fill-opacity="0.19"/>
<rect x="105.24" y="626.10" width="0.50" height="4.70" fill="#3a2a60" fill-opacity="0.23"/>
<rect x="93.39" y="626.10" width="0.90" height="4.70" fill="#3a2a60" fill-opacity="0.26"/>
<rect x="103.80" y="626.10" width="0.90" height="4.70" fill="#3a2a60" fill-opacity="0.15"/>
<rect x="100.26" y="626.10" width="0.50" height="4.70" fill="#3a2a60" fill-opacity="0.18"/>
<rect x="93.25" y="626.10" width="0.50" height="4.70" fill="#3a2a60" fill-opacity="0.17"/>
<rect x="118.64" y="626.10" width="0.50" height="4.70" fill="#3a2a60" fill-opacity="0.20"/>
<rect x="95.87" y="626.10" width="0.70" height="4.70" fill="#3a2a60" fill-opacity="0.18"/>
<rect x="92.51" y="626.10" width="0.70" height="4.70" fill="#3a2a60" fill-opacity="0.16"/>
<rect x="90.31" y="626.10" width="0.90" height="4.70" fill="#3a2a60" fill-opacity="0.28"/>
<rect x="95.11" y="626.10" width="0.90" height="4.70" fill="#3a2a60" fill-opacity="0.20"/>
<rect x="103.18" y="626.10" width="0.70" height="4.70" fill="#3a2a60" fill-opacity="0.19"/>
<rect x="94.00" y="626.10" width="0.70" height="4.70" fill="#3a2a60" fill-opacity="0.19"/>
<rect x="108.92" y="626.10" width="0.90" height="4.70" fill="#3a2a60" fill-opacity="0.16"/>
<rect x="121.41" y="626.10" width="0.90" height="4.70" fill="#3a2a60" fill-opacity="0.29"/>
<rect x="98.37" y="626.10" width="0.70" height="4.70" fill="#3a2a60" fill-opacity="0.25"/>
<rect x="112.37" y="626.10" width="0.90" height="4.70" fill="#3a2a60" fill-opacity="0.15"/>
<rect x="161.54" y="626.10" width="0.90" height="4.70" fill="#2a1a80" fill-opacity="0.34"/>
<rect x="141.61" y="626.10" width="0.90" height="4.70" fill="#2a1a80" fill-opacity="0.22"/>
<rect x="135.72" y="626.10" width="0.90" height="4.70" fill="#2a1a80" fill-opacity="0.22"/>
<rect x="146.84" y="626.10" width="0.50" height="4.70" fill="#2a1a80" fill-opacity="0.34"/>
<rect x="141.36" y="626.10" width="0.90" height="4.70" fill="#2a1a80" fill-opacity="0.38"/>
<rect x="142.19" y="626.10" width="0.70" height="4.70" fill="#2a1a80" fill-opacity="0.37"/>
<rect x="138.87" y="626.10" width="0.50" height="4.70" fill="#2a1a80" fill-opacity="0.26"/>
<rect x="140.93" y="626.10" width="0.50" height="4.70" fill="#2a1a80" fill-opacity="0.33"/>
<rect x="147.02" y="626.10" width="0.50" height="4.70" fill="#2a1a80" fill-opacity="0.34"/>
<rect x="157.57" y="626.10" width="0.50" height="4.70" fill="#2a1a80" fill-opacity="0.22"/>
<rect x="137.80" y="626.10" width="0.90" height="4.70" fill="#2a1a80" fill-opacity="0.36"/>
<text x="51.70" y="633.80" font-size="2.7" fill="#d02828" textLength="40.00" lengthAdjust="spacingAndGlyphs" >&#x27;na_pos&#x27; (positively correlated)</text>
<text x="109.20" y="665.20" font-size="2.7" fill="#3030c8" textLength="42.50" lengthAdjust="spacingAndGlyphs" >&#x27;na_neg&#x27; (negatively correlated)</text>
<path d="M50.50,649.00 L50.50,637.20 L51.20,639.17 L51.90,640.57 L52.60,641.62 L53.30,642.44 L54.00,643.10 L54.70,643.64 L55.40,644.08 L56.10,644.46 L56.80,644.79 L57.50,645.07 L58.20,645.31 L58.90,645.53 L59.60,645.72 L60.30,645.89 L61.00,646.05 L61.70,646.19 L62.40,646.32 L63.10,646.43 L63.80,646.54 L64.50,646.64 L65.20,646.73 L65.90,646.81 L66.60,646.89 L67.30,646.97 L68.00,647.03 L68.70,647.10 L69.40,647.16 L70.10,647.21 L70.80,647.26 L71.50,647.31 L72.20,647.36 L72.90,647.41 L73.60,647.45 L74.30,647.49 L75.00,647.52 L75.70,647.56 L76.40,647.60 L77.10,647.63 L77.80,647.66 L78.50,647.69 L79.20,647.72 L79.90,647.74 L80.60,647.77 L81.30,647.80 L82.00,647.82 L82.70,647.84 L83.40,647.87 L84.10,647.89 L84.80,647.91 L85.50,647.93 L86.20,647.95 L86.90,647.96 L87.60,647.98 L88.30,648.00 L89.00,648.02 L89.70,648.03 L90.40,648.05 L91.10,648.06 L91.80,648.08 L92.50,648.09 L93.20,648.11 L93.90,648.12 L94.60,648.13 L95.30,648.14 L96.00,648.16 L96.70,648.17 L97.40,648.18 L98.10,648.19 L98.80,648.20 L99.50,648.21 L100.20,648.22 L100.90,648.23 L101.60,648.24 L102.30,648.25 L103.00,648.26 L103.70,648.27 L104.40,648.28 L105.10,648.29 L105.80,648.30 L106.50,648.31 L107.20,648.31 L107.90,648.32 L108.60,648.33 L109.30,648.34 L110.00,648.34 L110.70,648.35 L111.40,648.36 L112.10,648.37 L112.80,648.37 L113.50,648.38 L114.20,648.39 L114.90,648.39 L115.60,648.40 L115.50,649.00 Z" fill="#c6c6c6"/>
<path d="M115.50,649.00 L115.50,649.00 L115.89,649.01 L116.27,649.03 L116.66,649.05 L117.05,649.07 L117.43,649.09 L117.82,649.12 L118.21,649.15 L118.59,649.18 L118.98,649.21 L119.37,649.25 L119.75,649.28 L120.14,649.32 L120.53,649.36 L120.91,649.40 L121.30,649.44 L121.69,649.48 L122.07,649.52 L122.46,649.56 L122.85,649.61 L123.23,649.65 L123.62,649.70 L124.01,649.74 L124.39,649.79 L124.78,649.84 L125.17,649.89 L125.55,649.94 L125.94,649.99 L126.33,650.04 L126.71,650.10 L127.10,650.15 L127.49,650.20 L127.87,650.26 L128.26,650.31 L128.65,650.37 L129.03,650.43 L129.42,650.48 L129.81,650.54 L130.19,650.60 L130.58,650.66 L130.97,650.72 L131.35,650.78 L131.74,650.84 L132.13,650.90 L132.51,650.96 L132.90,651.03 L133.29,651.09 L133.67,651.15 L134.06,651.22 L134.45,651.28 L134.83,651.35 L135.22,651.41 L135.61,651.48 L135.99,651.55 L136.38,651.62 L136.77,651.68 L137.15,651.75 L137.54,651.82 L137.93,651.89 L138.31,651.96 L138.70,652.03 L139.09,652.10 L139.47,652.17 L139.86,652.25 L140.25,652.32 L140.63,652.39 L141.02,652.46 L141.41,652.54 L141.79,652.61 L142.18,652.69 L142.57,652.76 L142.95,652.84 L143.34,652.91 L143.73,652.99 L144.11,653.07 L144.50,653.14 L144.89,653.22 L145.27,653.30 L145.66,653.38 L146.05,653.46 L146.43,653.53 L146.82,653.61 L147.21,653.69 L147.59,653.77 L147.98,653.86 L148.37,653.94 L148.75,654.02 L149.14,654.10 L149.53,654.18 L149.91,654.27 L150.30,654.35 L150.69,654.43 L151.07,654.52 L151.46,654.60 L151.85,654.69 L152.23,654.78 L152.62,654.87 L153.01,654.96 L153.39,655.05 L153.78,655.14 L154.17,655.24 L154.55,655.34 L154.94,655.45 L155.33,655.56 L155.71,655.67 L156.10,655.80 L156.49,655.94 L156.87,656.10 L157.26,656.27 L157.65,656.47 L158.03,656.69 L158.42,656.96 L158.81,657.28 L159.19,657.66 L159.58,658.11 L159.97,658.66 L160.35,659.34 L160.74,660.17 L161.13,661.19 L161.51,662.44 L161.90,664.00 L161.90,649.00 Z" fill="#c6c6c6"/>
<line x1="50.50" y1="649.00" x2="162.30" y2="649.00" stroke="#9a9a9a" stroke-width="0.5" />
<text x="89.00" y="649.90" font-size="2.7" fill="#333" textLength="26.00" lengthAdjust="spacingAndGlyphs" >Zero cross at 12XXX</text>
<path d="M50.80,601.50 C51.03,600.25 51.63,596.17 52.20,594.00 C52.77,591.83 53.37,590.33 54.20,588.50 C55.03,586.67 56.17,584.67 57.20,583.00 C58.23,581.33 59.10,580.67 60.40,578.50 C61.70,576.33 63.33,572.70 65.00,570.00 C66.67,567.30 68.60,564.22 70.40,562.30 C72.20,560.38 74.00,559.40 75.80,558.50 C77.60,557.60 79.42,557.08 81.20,556.90 C82.98,556.72 84.58,556.88 86.50,557.40 C88.42,557.92 90.38,558.67 92.70,560.00 C95.02,561.33 97.58,563.23 100.40,565.40 C103.22,567.57 106.53,570.57 109.60,573.00 C112.67,575.43 116.23,578.07 118.80,580.00 C121.37,581.93 122.13,582.43 125.00,584.60 C127.87,586.77 132.33,590.40 136.00,593.00 C139.67,595.60 143.83,598.43 147.00,600.20 C150.17,601.97 152.83,602.87 155.00,603.60 C157.17,604.33 158.58,604.43 160.00,604.60 C161.42,604.77 162.92,604.60 163.50,604.60" fill="none" stroke="#74b62c" stroke-width="1.15" stroke-linejoin="round"/>
<rect x="50.50" y="554.60" width="117.80" height="112.60" fill="none" stroke="#111" stroke-width="1.4"/>
<line x1="47.10" y1="556.50" x2="50.50" y2="556.50" stroke="#111" stroke-width="0.9" />
<text x="44.50" y="559.00" font-size="7" fill="#2a2a2a" stroke="#2a2a2a" stroke-width="0.12" text-anchor="end" >0.5</text>
<line x1="47.10" y1="566.06" x2="50.50" y2="566.06" stroke="#111" stroke-width="0.9" />
<text x="44.50" y="568.56" font-size="7" fill="#2a2a2a" stroke="#2a2a2a" stroke-width="0.12" text-anchor="end" >0.4</text>
<line x1="47.10" y1="575.62" x2="50.50" y2="575.62" stroke="#111" stroke-width="0.9" />
<text x="44.50" y="578.12" font-size="7" fill="#2a2a2a" stroke="#2a2a2a" stroke-width="0.12" text-anchor="end" >0.3</text>
<line x1="47.10" y1="585.18" x2="50.50" y2="585.18" stroke="#111" stroke-width="0.9" />
<text x="44.50" y="587.68" font-size="7" fill="#2a2a2a" stroke="#2a2a2a" stroke-width="0.12" text-anchor="end" >0.2</text>
<line x1="47.10" y1="594.74" x2="50.50" y2="594.74" stroke="#111" stroke-width="0.9" />
<text x="44.50" y="597.24" font-size="7" fill="#2a2a2a" stroke="#2a2a2a" stroke-width="0.12" text-anchor="end" >0.1</text>
<line x1="47.10" y1="604.30" x2="50.50" y2="604.30" stroke="#111" stroke-width="0.9" />
<text x="44.50" y="606.80" font-size="7" fill="#2a2a2a" stroke="#2a2a2a" stroke-width="0.12" text-anchor="end" >0.0</text>
<text x="47.30" y="641.10" font-size="6.2" fill="#2a2a2a" stroke="#2a2a2a" stroke-width="0.12" text-anchor="end" transform="translate(0 0)">5</text>
<text x="47.30" y="650.80" font-size="6.2" fill="#2a2a2a" stroke="#2a2a2a" stroke-width="0.12" text-anchor="end" transform="translate(0 0)">0</text>
<text x="47.30" y="660.80" font-size="6.2" fill="#2a2a2a" stroke="#2a2a2a" stroke-width="0.12" text-anchor="end" transform="translate(0 0)">-5</text>
<line x1="50.50" y1="667.20" x2="50.50" y2="670.70" stroke="#111" stroke-width="1" />
<text x="0" y="0" font-size="7.2" fill="#2a2a2a" stroke="#2a2a2a" stroke-width="0.15" text-anchor="end" transform="translate(54.20 676.30) rotate(-45)">0</text>
<line x1="72.86" y1="667.20" x2="72.86" y2="670.70" stroke="#111" stroke-width="1" />
<text x="0" y="0" font-size="7.2" fill="#2a2a2a" stroke="#2a2a2a" stroke-width="0.15" text-anchor="end" transform="translate(76.56 676.30) rotate(-45)">5,000</text>
<line x1="95.22" y1="667.20" x2="95.22" y2="670.70" stroke="#111" stroke-width="1" />
<text x="0" y="0" font-size="7.2" fill="#2a2a2a" stroke="#2a2a2a" stroke-width="0.15" text-anchor="end" transform="translate(98.92 676.30) rotate(-45)">10,000</text>
<line x1="117.58" y1="667.20" x2="117.58" y2="670.70" stroke="#111" stroke-width="1" />
<text x="0" y="0" font-size="7.2" fill="#2a2a2a" stroke="#2a2a2a" stroke-width="0.15" text-anchor="end" transform="translate(121.28 676.30) rotate(-45)">15,000</text>
<line x1="139.94" y1="667.20" x2="139.94" y2="670.70" stroke="#111" stroke-width="1" />
<text x="0" y="0" font-size="7.2" fill="#2a2a2a" stroke="#2a2a2a" stroke-width="0.15" text-anchor="end" transform="translate(143.64 676.30) rotate(-45)">20,000</text>
<line x1="162.30" y1="667.20" x2="162.30" y2="670.70" stroke="#111" stroke-width="1" />
<text x="0" y="0" font-size="7.2" fill="#2a2a2a" stroke="#2a2a2a" stroke-width="0.15" text-anchor="end" transform="translate(166.00 676.30) rotate(-45)">25,000</text>
<text x="108.90" y="703.50" font-size="9.8" fill="#222" stroke="#222" stroke-width="0.12" text-anchor="middle" textLength="75.60" lengthAdjust="spacingAndGlyphs" >Rank in ordered dataset</text>
<text x="114.20" y="563.20" font-size="8.3" fill="#1a1a1a" stroke="#1a1a1a" stroke-width="0.12" style="white-space:pre">NES  2.6</text>
<text x="114.20" y="573.40" font-size="8.3" fill="#1a1a1a" stroke="#1a1a1a" stroke-width="0.12" style="white-space:pre">FDR  0</text>
<text x="18.40" y="580.15" font-size="9.8" fill="#2a2a2a" stroke="#2a2a2a" stroke-width="0.12" text-anchor="middle" textLength="36.80" lengthAdjust="spacingAndGlyphs" transform="rotate(-90 18.40 580.15)" >Enrichment</text>
<text x="27.70" y="580.10" font-size="9.8" fill="#2a2a2a" stroke="#2a2a2a" stroke-width="0.12" text-anchor="middle" textLength="30.60" lengthAdjust="spacingAndGlyphs" transform="rotate(-90 27.70 580.10)" >score (ES)</text>
<text x="25.90" y="648.60" font-size="9.8" fill="#2a2a2a" stroke="#2a2a2a" stroke-width="0.12" text-anchor="middle" textLength="57.00" lengthAdjust="spacingAndGlyphs" transform="rotate(-90 25.90 648.60)" >Ranked list metric</text>
<text x="34.60" y="648.90" font-size="9.8" fill="#2a2a2a" stroke="#2a2a2a" stroke-width="0.12" text-anchor="middle" textLength="39.50" lengthAdjust="spacingAndGlyphs" transform="rotate(-90 34.60 648.90)" >(PreRanked)</text>
<line x1="9.80" y1="715.10" x2="13.20" y2="715.10" stroke="#8cc060" stroke-width="0.9" />
<text x="16.30" y="717.40" font-size="6.6" fill="#2a2a2a" stroke="#2a2a2a" stroke-width="0.12" textLength="47.10" lengthAdjust="spacingAndGlyphs" >Enrichment profile</text>
<line x1="70.30" y1="715.10" x2="73.50" y2="715.10" stroke="#222" stroke-width="0.9" />
<text x="76.90" y="717.40" font-size="6.6" fill="#2a2a2a" stroke="#2a2a2a" stroke-width="0.12" textLength="9.60" lengthAdjust="spacingAndGlyphs" >Hits</text>
<line x1="92.50" y1="715.10" x2="95.50" y2="715.10" stroke="#999" stroke-width="0.8" />
<line x1="97.50" y1="715.10" x2="100.50" y2="715.10" stroke="#999" stroke-width="0.8" />
<text x="104.80" y="717.40" font-size="6.6" fill="#2a2a2a" stroke="#2a2a2a" stroke-width="0.12" textLength="55.70" lengthAdjust="spacingAndGlyphs" >Ranking metric scores</text>
<text x="179.50" y="530.20" font-size="12" fill="#000" stroke="#000" stroke-width="0.12" font-weight="bold" >F</text>
<text x="281.90" y="538.10" font-size="8.6" fill="#222" stroke="#222" stroke-width="0.12" text-anchor="middle" textLength="73.50" lengthAdjust="spacingAndGlyphs" >BCL6 Deletion UP</text>
<text x="281.90" y="548.70" font-size="8.6" fill="#222" stroke="#222" stroke-width="0.12" text-anchor="middle" textLength="62.00" lengthAdjust="spacingAndGlyphs" >(FX1 vs DMSO)</text>
<line x1="245.36" y1="554.70" x2="245.36" y2="608.90" stroke="#f0f0f0" stroke-width="0.6" />
<line x1="245.36" y1="630.80" x2="245.36" y2="667.10" stroke="#f0f0f0" stroke-width="0.6" />
<line x1="267.72" y1="554.70" x2="267.72" y2="608.90" stroke="#f0f0f0" stroke-width="0.6" />
<line x1="267.72" y1="630.80" x2="267.72" y2="667.10" stroke="#f0f0f0" stroke-width="0.6" />
<line x1="290.08" y1="554.70" x2="290.08" y2="608.90" stroke="#f0f0f0" stroke-width="0.6" />
<line x1="290.08" y1="630.80" x2="290.08" y2="667.10" stroke="#f0f0f0" stroke-width="0.6" />
<line x1="312.44" y1="554.70" x2="312.44" y2="608.90" stroke="#f0f0f0" stroke-width="0.6" />
<line x1="312.44" y1="630.80" x2="312.44" y2="667.10" stroke="#f0f0f0" stroke-width="0.6" />
<line x1="334.80" y1="554.70" x2="334.80" y2="608.90" stroke="#f0f0f0" stroke-width="0.6" />
<line x1="334.80" y1="630.80" x2="334.80" y2="667.10" stroke="#f0f0f0" stroke-width="0.6" />
<line x1="223.00" y1="557.00" x2="340.80" y2="557.00" stroke="#f0f0f0" stroke-width="0.6" />
<line x1="223.00" y1="565.07" x2="340.80" y2="565.07" stroke="#f0f0f0" stroke-width="0.6" />
<line x1="223.00" y1="573.14" x2="340.80" y2="573.14" stroke="#f0f0f0" stroke-width="0.6" />
<line x1="223.00" y1="581.21" x2="340.80" y2="581.21" stroke="#f0f0f0" stroke-width="0.6" />
<line x1="223.00" y1="589.28" x2="340.80" y2="589.28" stroke="#f0f0f0" stroke-width="0.6" />
<line x1="223.00" y1="597.35" x2="340.80" y2="597.35" stroke="#f0f0f0" stroke-width="0.6" />
<line x1="223.00" y1="605.42" x2="340.80" y2="605.42" stroke="#f0f0f0" stroke-width="0.6" />
<line x1="223.00" y1="605.40" x2="340.80" y2="605.40" stroke="#dadada" stroke-width="0.8" />
<line x1="223.00" y1="629.70" x2="340.80" y2="629.70" stroke="#f0f0f0" stroke-width="0.5" />
<line x1="223.00" y1="636.10" x2="340.80" y2="636.10" stroke="#f0f0f0" stroke-width="0.5" />
<line x1="223.00" y1="642.50" x2="340.80" y2="642.50" stroke="#f0f0f0" stroke-width="0.5" />
<line x1="223.00" y1="648.90" x2="340.80" y2="648.90" stroke="#f0f0f0" stroke-width="0.5" />
<line x1="223.00" y1="655.30" x2="340.80" y2="655.30" stroke="#f0f0f0" stroke-width="0.5" />
<line x1="223.00" y1="661.70" x2="340.80" y2="661.70" stroke="#f0f0f0" stroke-width="0.5" />
<rect x="223.00" y="608.90" width="76.80" height="16.90" fill="#161616" />
<rect x="299.80" y="608.90" width="1.20" height="16.90" fill="#555" />
<rect x="301.00" y="608.90" width="1.90" height="16.90" fill="#161616" />
<rect x="302.90" y="608.90" width="2.30" height="16.90" fill="#777" />
<rect x="305.20" y="608.90" width="2.30" height="16.90" fill="#161616" />
<rect x="307.50" y="608.90" width="2.30" height="16.90" fill="#777" />
<rect x="309.80" y="608.90" width="1.60" height="16.90" fill="#161616" />
<rect x="311.40" y="608.90" width="2.30" height="16.90" fill="#555" />
<rect x="313.70" y="608.90" width="5.40" height="16.90" fill="#222" />
<rect x="319.10" y="608.90" width="2.30" height="16.90" fill="#666" />
<rect x="321.40" y="608.90" width="1.10" height="16.90" fill="#ccc" />
<rect x="322.50" y="608.90" width="1.20" height="16.90" fill="#888" />
<rect x="323.70" y="608.90" width="4.60" height="16.90" fill="#444" />
<rect x="328.30" y="608.90" width="1.50" height="16.90" fill="#777" />
<rect x="329.80" y="608.90" width="2.40" height="16.90" fill="#333" />
<rect x="332.20" y="608.90" width="2.30" height="16.90" fill="#666" />
<rect x="334.50" y="608.90" width="1.30" height="16.90" fill="#444" />
<rect x="239.70" y="608.90" width="0.60" height="16.90" fill="#262626" />
<rect x="261.70" y="608.90" width="0.60" height="16.90" fill="#262626" />
<rect x="279.70" y="608.90" width="0.60" height="16.90" fill="#2a2a2a" />
<rect x="291.70" y="608.90" width="0.60" height="16.90" fill="#2a2a2a" />
<rect x="223.00" y="625.80" width="27.20" height="5.00" fill="#3c1418" />
<rect x="250.00" y="625.80" width="14.20" height="5.00" fill="#5a2028" />
<rect x="264.00" y="625.80" width="14.20" height="5.00" fill="#9a7ca8" />
<rect x="278.00" y="625.80" width="23.20" height="5.00" fill="#b0a8d8" />
<rect x="301.00" y="625.80" width="17.20" height="5.00" fill="#5a4cb0" />
<rect x="318.00" y="625.80" width="12.20" height="5.00" fill="#4a3ca8" />
<rect x="330.00" y="625.80" width="6.00" height="5.00" fill="#3a2a98" />
<rect x="239.76" y="625.80" width="0.70" height="5.00" fill="#b02830" fill-opacity="0.26"/>
<rect x="231.89" y="625.80" width="0.70" height="5.00" fill="#b02830" fill-opacity="0.27"/>
<rect x="245.27" y="625.80" width="0.70" height="5.00" fill="#b02830" fill-opacity="0.32"/>
<rect x="240.63" y="625.80" width="0.50" height="5.00" fill="#b02830" fill-opacity="0.19"/>
<rect x="245.66" y="625.80" width="0.70" height="5.00" fill="#b02830" fill-opacity="0.21"/>
<rect x="242.12" y="625.80" width="0.90" height="5.00" fill="#b02830" fill-opacity="0.18"/>
<rect x="227.56" y="625.80" width="0.90" height="5.00" fill="#b02830" fill-opacity="0.30"/>
<rect x="228.47" y="625.80" width="0.90" height="5.00" fill="#b02830" fill-opacity="0.32"/>
<rect x="228.54" y="625.80" width="0.70" height="5.00" fill="#b02830" fill-opacity="0.24"/>
<rect x="249.36" y="625.80" width="0.90" height="5.00" fill="#b02830" fill-opacity="0.22"/>
<rect x="260.25" y="625.80" width="0.90" height="5.00" fill="#b02830" fill-opacity="0.21"/>
<rect x="241.17" y="625.80" width="0.50" height="5.00" fill="#b02830" fill-opacity="0.30"/>
<rect x="253.68" y="625.80" width="0.70" height="5.00" fill="#b02830" fill-opacity="0.22"/>
<rect x="235.91" y="625.80" width="0.70" height="5.00" fill="#b02830" fill-opacity="0.18"/>
<rect x="252.76" y="625.80" width="0.50" height="5.00" fill="#b02830" fill-opacity="0.22"/>
<rect x="258.45" y="625.80" width="0.50" height="5.00" fill="#b02830" fill-opacity="0.21"/>
<rect x="260.78" y="625.80" width="0.90" height="5.00" fill="#c04048" fill-opacity="0.36"/>
<rect x="255.80" y="625.80" width="0.50" height="5.00" fill="#c04048" fill-opacity="0.30"/>
<rect x="260.22" y="625.80" width="0.90" height="5.00" fill="#c04048" fill-opacity="0.40"/>
<rect x="254.32" y="625.80" width="0.50" height="5.00" fill="#c04048" fill-opacity="0.26"/>
<rect x="254.76" y="625.80" width="0.70" height="5.00" fill="#c04048" fill-opacity="0.32"/>
<rect x="259.48" y="625.80" width="0.90" height="5.00" fill="#c04048" fill-opacity="0.36"/>
<rect x="254.08" y="625.80" width="0.50" height="5.00" fill="#c04048" fill-opacity="0.25"/>
<rect x="256.07" y="625.80" width="0.50" height="5.00" fill="#c04048" fill-opacity="0.37"/>
<rect x="268.80" y="625.80" width="0.50" height="5.00" fill="#3a2a60" fill-opacity="0.19"/>
<rect x="289.89" y="625.80" width="0.90" height="5.00" fill="#3a2a60" fill-opacity="0.26"/>
<rect x="287.54" y="625.80" width="0.90" height="5.00" fill="#3a2a60" fill-opacity="0.28"/>
<rect x="300.22" y="625.80" width="0.90" height="5.00" fill="#3a2a60" fill-opacity="0.24"/>
<rect x="278.82" y="625.80" width="0.50" height="5.00" fill="#3a2a60" fill-opacity="0.30"/>
<rect x="295.73" y="625.80" width="0.70" height="5.00" fill="#3a2a60" fill-opacity="0.24"/>
<rect x="281.38" y="625.80" width="0.90" height="5.00" fill="#3a2a60" fill-opacity="0.28"/>
<rect x="295.46" y="625.80" width="0.50" height="5.00" fill="#3a2a60" fill-opacity="0.28"/>
<rect x="281.30" y="625.80" width="0.90" height="5.00" fill="#3a2a60" fill-opacity="0.23"/>
<rect x="299.62" y="625.80" width="0.50" height="5.00" fill="#3a2a60" fill-opacity="0.23"/>
<rect x="276.56" y="625.80" width="0.90" height="5.00" fill="#3a2a60" fill-opacity="0.15"/>
<rect x="270.36" y="625.80" width="0.90" height="5.00" fill="#3a2a60" fill-opacity="0.25"/>
<rect x="271.75" y="625.80" width="0.70" height="5.00" fill="#3a2a60" fill-opacity="0.25"/>
<rect x="296.30" y="625.80" width="0.50" height="5.00" fill="#3a2a60" fill-opacity="0.20"/>
<rect x="278.38" y="625.80" width="0.70" height="5.00" fill="#3a2a60" fill-opacity="0.17"/>
<rect x="292.99" y="625.80" width="0.90" height="5.00" fill="#3a2a60" fill-opacity="0.25"/>
<rect x="282.26" y="625.80" width="0.90" height="5.00" fill="#3a2a60" fill-opacity="0.16"/>
<rect x="296.37" y="625.80" width="0.90" height="5.00" fill="#3a2a60" fill-opacity="0.29"/>
<rect x="316.84" y="625.80" width="0.70" height="5.00" fill="#2a1a80" fill-opacity="0.24"/>
<rect x="308.59" y="625.80" width="0.90" height="5.00" fill="#2a1a80" fill-opacity="0.35"/>
<rect x="313.90" y="625.80" width="0.70" height="5.00" fill="#2a1a80" fill-opacity="0.25"/>
<rect x="308.40" y="625.80" width="0.70" height="5.00" fill="#2a1a80" fill-opacity="0.20"/>
<rect x="313.00" y="625.80" width="0.50" height="5.00" fill="#2a1a80" fill-opacity="0.28"/>
<rect x="314.28" y="625.80" width="0.90" height="5.00" fill="#2a1a80" fill-opacity="0.34"/>
<rect x="304.21" y="625.80" width="0.70" height="5.00" fill="#2a1a80" fill-opacity="0.22"/>
<rect x="322.04" y="625.80" width="0.90" height="5.00" fill="#2a1a80" fill-opacity="0.36"/>
<rect x="320.18" y="625.80" width="0.70" height="5.00" fill="#2a1a80" fill-opacity="0.20"/>
<rect x="310.13" y="625.80" width="0.70" height="5.00" fill="#2a1a80" fill-opacity="0.32"/>
<rect x="329.40" y="625.80" width="0.70" height="5.00" fill="#2a1a80" fill-opacity="0.25"/>
<rect x="306.32" y="625.80" width="0.90" height="5.00" fill="#2a1a80" fill-opacity="0.36"/>
<rect x="317.60" y="625.80" width="0.70" height="5.00" fill="#2a1a80" fill-opacity="0.38"/>
<text x="224.20" y="633.80" font-size="2.7" fill="#d02828" textLength="40.00" lengthAdjust="spacingAndGlyphs" >&#x27;na_pos&#x27; (positively correlated)</text>
<text x="281.70" y="665.10" font-size="2.7" fill="#3030c8" textLength="42.50" lengthAdjust="spacingAndGlyphs" >&#x27;na_neg&#x27; (negatively correlated)</text>
<path d="M223.00,649.30 L223.00,643.50 L223.70,644.21 L224.40,644.77 L225.10,645.22 L225.80,645.58 L226.50,645.89 L227.20,646.15 L227.90,646.37 L228.60,646.56 L229.30,646.73 L230.00,646.88 L230.70,647.02 L231.40,647.14 L232.10,647.24 L232.80,647.34 L233.50,647.43 L234.20,647.51 L234.90,647.58 L235.60,647.65 L236.30,647.72 L237.00,647.77 L237.70,647.83 L238.40,647.88 L239.10,647.93 L239.80,647.97 L240.50,648.01 L241.20,648.05 L241.90,648.09 L242.60,648.12 L243.30,648.15 L244.00,648.18 L244.70,648.21 L245.40,648.24 L246.10,648.27 L246.80,648.29 L247.50,648.32 L248.20,648.34 L248.90,648.36 L249.60,648.38 L250.30,648.40 L251.00,648.42 L251.70,648.44 L252.40,648.46 L253.10,648.47 L253.80,648.49 L254.50,648.51 L255.20,648.52 L255.90,648.53 L256.60,648.55 L257.30,648.56 L258.00,648.57 L258.70,648.59 L259.40,648.60 L260.10,648.61 L260.80,648.62 L261.50,648.63 L262.20,648.64 L262.90,648.65 L263.60,648.66 L264.30,648.67 L265.00,648.68 L265.70,648.69 L266.40,648.70 L267.10,648.71 L267.80,648.72 L268.50,648.73 L269.20,648.73 L269.90,648.74 L270.60,648.75 L271.30,648.76 L272.00,648.76 L272.70,648.77 L273.40,648.78 L274.10,648.78 L274.80,648.79 L275.50,648.80 L276.20,648.80 L276.90,648.81 L277.60,648.81 L278.30,648.82 L279.00,648.82 L279.70,648.83 L280.40,648.84 L281.10,648.84 L281.80,648.85 L282.50,648.85 L283.20,648.86 L283.90,648.86 L284.60,648.86 L285.30,648.87 L286.00,648.87 L286.70,648.88 L287.40,648.88 L288.10,648.89 L288.00,649.30 Z" fill="#c6c6c6"/>
<path d="M288.00,649.30 L288.00,649.30 L288.39,649.31 L288.77,649.32 L289.16,649.33 L289.55,649.35 L289.93,649.37 L290.32,649.39 L290.71,649.41 L291.09,649.44 L291.48,649.46 L291.87,649.49 L292.25,649.51 L292.64,649.54 L293.03,649.57 L293.41,649.60 L293.80,649.63 L294.19,649.66 L294.57,649.69 L294.96,649.72 L295.35,649.75 L295.73,649.79 L296.12,649.82 L296.51,649.86 L296.89,649.89 L297.28,649.93 L297.67,649.97 L298.05,650.01 L298.44,650.04 L298.83,650.08 L299.21,650.12 L299.60,650.16 L299.99,650.20 L300.37,650.24 L300.76,650.28 L301.15,650.33 L301.53,650.37 L301.92,650.41 L302.31,650.46 L302.69,650.50 L303.08,650.54 L303.47,650.59 L303.85,650.63 L304.24,650.68 L304.63,650.73 L305.01,650.77 L305.40,650.82 L305.79,650.87 L306.17,650.92 L306.56,650.96 L306.95,651.01 L307.33,651.06 L307.72,651.11 L308.11,651.16 L308.49,651.21 L308.88,651.26 L309.27,651.31 L309.65,651.36 L310.04,651.42 L310.43,651.47 L310.81,651.52 L311.20,651.57 L311.59,651.63 L311.97,651.68 L312.36,651.73 L312.75,651.79 L313.13,651.84 L313.52,651.90 L313.91,651.95 L314.29,652.01 L314.68,652.06 L315.07,652.12 L315.45,652.18 L315.84,652.23 L316.23,652.29 L316.61,652.35 L317.00,652.41 L317.39,652.47 L317.77,652.52 L318.16,652.58 L318.55,652.64 L318.93,652.70 L319.32,652.76 L319.71,652.82 L320.09,652.88 L320.48,652.94 L320.87,653.00 L321.25,653.06 L321.64,653.13 L322.03,653.19 L322.41,653.25 L322.80,653.31 L323.19,653.38 L323.57,653.44 L323.96,653.51 L324.35,653.57 L324.73,653.64 L325.12,653.71 L325.51,653.78 L325.89,653.85 L326.28,653.92 L326.67,654.00 L327.05,654.09 L327.44,654.17 L327.83,654.27 L328.21,654.37 L328.60,654.49 L328.99,654.62 L329.37,654.77 L329.76,654.95 L330.15,655.15 L330.53,655.40 L330.92,655.69 L331.31,656.05 L331.69,656.49 L332.08,657.02 L332.47,657.69 L332.85,658.51 L333.24,659.52 L333.63,660.78 L334.01,662.35 L334.40,664.30 L334.40,649.30 Z" fill="#c6c6c6"/>
<line x1="223.00" y1="649.30" x2="334.80" y2="649.30" stroke="#9a9a9a" stroke-width="0.5" />
<text x="261.50" y="650.20" font-size="2.7" fill="#333" textLength="26.00" lengthAdjust="spacingAndGlyphs" >Zero cross at 12XXX</text>
<path d="M222.80,604.20 C223.48,601.70 225.45,593.82 226.90,589.20 C228.35,584.58 230.15,579.65 231.50,576.50 C232.85,573.35 233.65,572.42 235.00,570.30 C236.35,568.18 238.07,565.72 239.60,563.80 C241.13,561.88 242.47,560.02 244.20,558.80 C245.93,557.58 247.87,556.62 250.00,556.50 C252.13,556.38 254.30,557.07 257.00,558.10 C259.70,559.13 262.75,560.40 266.20,562.70 C269.65,565.00 273.85,569.02 277.70,571.90 C281.55,574.78 285.45,577.30 289.30,580.00 C293.15,582.70 296.95,585.48 300.80,588.10 C304.65,590.72 308.55,593.58 312.40,595.70 C316.25,597.82 320.05,599.10 323.90,600.80 C327.75,602.50 333.57,605.05 335.50,605.90" fill="none" stroke="#74b62c" stroke-width="1.15" stroke-linejoin="round"/>
<rect x="223.00" y="554.70" width="117.80" height="112.40" fill="none" stroke="#111" stroke-width="1.4"/>
<line x1="219.60" y1="557.00" x2="223.00" y2="557.00" stroke="#111" stroke-width="0.9" />
<text x="217.00" y="559.50" font-size="7" fill="#2a2a2a" stroke="#2a2a2a" stroke-width="0.12" text-anchor="end" >0.6</text>
<line x1="219.60" y1="565.07" x2="223.00" y2="565.07" stroke="#111" stroke-width="0.9" />
<text x="217.00" y="567.57" font-size="7" fill="#2a2a2a" stroke="#2a2a2a" stroke-width="0.12" text-anchor="end" >0.5</text>
<line x1="219.60" y1="573.14" x2="223.00" y2="573.14" stroke="#111" stroke-width="0.9" />
<text x="217.00" y="575.64" font-size="7" fill="#2a2a2a" stroke="#2a2a2a" stroke-width="0.12" text-anchor="end" >0.4</text>
<line x1="219.60" y1="581.21" x2="223.00" y2="581.21" stroke="#111" stroke-width="0.9" />
<text x="217.00" y="583.71" font-size="7" fill="#2a2a2a" stroke="#2a2a2a" stroke-width="0.12" text-anchor="end" >0.3</text>
<line x1="219.60" y1="589.28" x2="223.00" y2="589.28" stroke="#111" stroke-width="0.9" />
<text x="217.00" y="591.78" font-size="7" fill="#2a2a2a" stroke="#2a2a2a" stroke-width="0.12" text-anchor="end" >0.2</text>
<line x1="219.60" y1="597.35" x2="223.00" y2="597.35" stroke="#111" stroke-width="0.9" />
<text x="217.00" y="599.85" font-size="7" fill="#2a2a2a" stroke="#2a2a2a" stroke-width="0.12" text-anchor="end" >0.1</text>
<line x1="219.60" y1="605.42" x2="223.00" y2="605.42" stroke="#111" stroke-width="0.9" />
<text x="217.00" y="607.92" font-size="7" fill="#2a2a2a" stroke="#2a2a2a" stroke-width="0.12" text-anchor="end" >0.0</text>
<text x="219.80" y="631.80" font-size="6.2" fill="#2a2a2a" stroke="#2a2a2a" stroke-width="0.12" text-anchor="end" transform="translate(0 0)">6</text>
<text x="219.80" y="638.20" font-size="6.2" fill="#2a2a2a" stroke="#2a2a2a" stroke-width="0.12" text-anchor="end" transform="translate(0 0)">4</text>
<text x="219.80" y="644.60" font-size="6.2" fill="#2a2a2a" stroke="#2a2a2a" stroke-width="0.12" text-anchor="end" transform="translate(0 0)">2</text>
<text x="219.80" y="651.00" font-size="6.2" fill="#2a2a2a" stroke="#2a2a2a" stroke-width="0.12" text-anchor="end" transform="translate(0 0)">0</text>
<text x="219.80" y="657.40" font-size="6.2" fill="#2a2a2a" stroke="#2a2a2a" stroke-width="0.12" text-anchor="end" transform="translate(0 0)">-2</text>
<text x="219.80" y="663.80" font-size="6.2" fill="#2a2a2a" stroke="#2a2a2a" stroke-width="0.12" text-anchor="end" transform="translate(0 0)">-4</text>
<line x1="223.00" y1="667.10" x2="223.00" y2="670.60" stroke="#111" stroke-width="1" />
<text x="0" y="0" font-size="7.2" fill="#2a2a2a" stroke="#2a2a2a" stroke-width="0.15" text-anchor="end" transform="translate(226.70 676.20) rotate(-45)">0</text>
<line x1="245.36" y1="667.10" x2="245.36" y2="670.60" stroke="#111" stroke-width="1" />
<text x="0" y="0" font-size="7.2" fill="#2a2a2a" stroke="#2a2a2a" stroke-width="0.15" text-anchor="end" transform="translate(249.06 676.20) rotate(-45)">5,000</text>
<line x1="267.72" y1="667.10" x2="267.72" y2="670.60" stroke="#111" stroke-width="1" />
<text x="0" y="0" font-size="7.2" fill="#2a2a2a" stroke="#2a2a2a" stroke-width="0.15" text-anchor="end" transform="translate(271.42 676.20) rotate(-45)">10,000</text>
<line x1="290.08" y1="667.10" x2="290.08" y2="670.60" stroke="#111" stroke-width="1" />
<text x="0" y="0" font-size="7.2" fill="#2a2a2a" stroke="#2a2a2a" stroke-width="0.15" text-anchor="end" transform="translate(293.78 676.20) rotate(-45)">15,000</text>
<line x1="312.44" y1="667.10" x2="312.44" y2="670.60" stroke="#111" stroke-width="1" />
<text x="0" y="0" font-size="7.2" fill="#2a2a2a" stroke="#2a2a2a" stroke-width="0.15" text-anchor="end" transform="translate(316.14 676.20) rotate(-45)">20,000</text>
<line x1="334.80" y1="667.10" x2="334.80" y2="670.60" stroke="#111" stroke-width="1" />
<text x="0" y="0" font-size="7.2" fill="#2a2a2a" stroke="#2a2a2a" stroke-width="0.15" text-anchor="end" transform="translate(338.50 676.20) rotate(-45)">25,000</text>
<text x="281.40" y="703.40" font-size="9.8" fill="#222" stroke="#222" stroke-width="0.12" text-anchor="middle" textLength="75.60" lengthAdjust="spacingAndGlyphs" >Rank in ordered dataset</text>
<text x="290.40" y="564.90" font-size="8.3" fill="#1a1a1a" stroke="#1a1a1a" stroke-width="0.12" style="white-space:pre">NES  2.1</text>
<text x="290.40" y="575.10" font-size="8.3" fill="#1a1a1a" stroke="#1a1a1a" stroke-width="0.12" style="white-space:pre">FDR  0</text>
<text x="191.40" y="581.30" font-size="9.8" fill="#2a2a2a" stroke="#2a2a2a" stroke-width="0.12" text-anchor="middle" textLength="36.80" lengthAdjust="spacingAndGlyphs" transform="rotate(-90 191.40 581.30)" >Enrichment</text>
<text x="201.10" y="581.50" font-size="9.8" fill="#2a2a2a" stroke="#2a2a2a" stroke-width="0.12" text-anchor="middle" textLength="30.60" lengthAdjust="spacingAndGlyphs" transform="rotate(-90 201.10 581.50)" >score (ES)</text>
<text x="198.00" y="645.80" font-size="9.8" fill="#2a2a2a" stroke="#2a2a2a" stroke-width="0.12" text-anchor="middle" textLength="57.00" lengthAdjust="spacingAndGlyphs" transform="rotate(-90 198.00 645.80)" >Ranked list metric</text>
<text x="206.10" y="646.10" font-size="9.8" fill="#2a2a2a" stroke="#2a2a2a" stroke-width="0.12" text-anchor="middle" textLength="39.50" lengthAdjust="spacingAndGlyphs" transform="rotate(-90 206.10 646.10)" >(PreRanked)</text>
<line x1="182.30" y1="715.00" x2="185.70" y2="715.00" stroke="#8cc060" stroke-width="0.9" />
<text x="188.80" y="717.30" font-size="6.6" fill="#2a2a2a" stroke="#2a2a2a" stroke-width="0.12" textLength="47.10" lengthAdjust="spacingAndGlyphs" >Enrichment profile</text>
<line x1="242.80" y1="715.00" x2="246.00" y2="715.00" stroke="#222" stroke-width="0.9" />
<text x="249.40" y="717.30" font-size="6.6" fill="#2a2a2a" stroke="#2a2a2a" stroke-width="0.12" textLength="9.60" lengthAdjust="spacingAndGlyphs" >Hits</text>
<line x1="265.00" y1="715.00" x2="268.00" y2="715.00" stroke="#999" stroke-width="0.8" />
<line x1="270.00" y1="715.00" x2="273.00" y2="715.00" stroke="#999" stroke-width="0.8" />
<text x="277.30" y="717.30" font-size="6.6" fill="#2a2a2a" stroke="#2a2a2a" stroke-width="0.12" textLength="55.70" lengthAdjust="spacingAndGlyphs" >Ranking metric scores</text>
<text x="352.00" y="530.20" font-size="12" fill="#000" stroke="#000" stroke-width="0.12" font-weight="bold" >G</text>
<text x="453.90" y="538.40" font-size="8.6" fill="#222" stroke="#222" stroke-width="0.12" text-anchor="middle" textLength="73.50" lengthAdjust="spacingAndGlyphs" >HOXA9 MEIS1 UP</text>
<text x="453.90" y="549.00" font-size="8.6" fill="#222" stroke="#222" stroke-width="0.12" text-anchor="middle" textLength="62.00" lengthAdjust="spacingAndGlyphs" >(FX1 vs DMSO)</text>
<line x1="417.36" y1="555.00" x2="417.36" y2="608.70" stroke="#f0f0f0" stroke-width="0.6" />
<line x1="417.36" y1="630.80" x2="417.36" y2="667.30" stroke="#f0f0f0" stroke-width="0.6" />
<line x1="439.72" y1="555.00" x2="439.72" y2="608.70" stroke="#f0f0f0" stroke-width="0.6" />
<line x1="439.72" y1="630.80" x2="439.72" y2="667.30" stroke="#f0f0f0" stroke-width="0.6" />
<line x1="462.08" y1="555.00" x2="462.08" y2="608.70" stroke="#f0f0f0" stroke-width="0.6" />
<line x1="462.08" y1="630.80" x2="462.08" y2="667.30" stroke="#f0f0f0" stroke-width="0.6" />
<line x1="484.44" y1="555.00" x2="484.44" y2="608.70" stroke="#f0f0f0" stroke-width="0.6" />
<line x1="484.44" y1="630.80" x2="484.44" y2="667.30" stroke="#f0f0f0" stroke-width="0.6" />
<line x1="506.80" y1="555.00" x2="506.80" y2="608.70" stroke="#f0f0f0" stroke-width="0.6" />
<line x1="506.80" y1="630.80" x2="506.80" y2="667.30" stroke="#f0f0f0" stroke-width="0.6" />
<line x1="395.00" y1="557.60" x2="512.80" y2="557.60" stroke="#f0f0f0" stroke-width="0.6" />
<line x1="395.00" y1="567.25" x2="512.80" y2="567.25" stroke="#f0f0f0" stroke-width="0.6" />
<line x1="395.00" y1="576.90" x2="512.80" y2="576.90" stroke="#f0f0f0" stroke-width="0.6" />
<line x1="395.00" y1="586.55" x2="512.80" y2="586.55" stroke="#f0f0f0" stroke-width="0.6" />
<line x1="395.00" y1="596.20" x2="512.80" y2="596.20" stroke="#f0f0f0" stroke-width="0.6" />
<line x1="395.00" y1="605.85" x2="512.80" y2="605.85" stroke="#f0f0f0" stroke-width="0.6" />
<line x1="395.00" y1="557.60" x2="512.80" y2="557.60" stroke="#dadada" stroke-width="0.8" />
<line x1="395.00" y1="631.80" x2="512.80" y2="631.80" stroke="#f0f0f0" stroke-width="0.5" />
<line x1="395.00" y1="637.75" x2="512.80" y2="637.75" stroke="#f0f0f0" stroke-width="0.5" />
<line x1="395.00" y1="643.70" x2="512.80" y2="643.70" stroke="#f0f0f0" stroke-width="0.5" />
<line x1="395.00" y1="649.65" x2="512.80" y2="649.65" stroke="#f0f0f0" stroke-width="0.5" />
<line x1="395.00" y1="655.60" x2="512.80" y2="655.60" stroke="#f0f0f0" stroke-width="0.5" />
<line x1="395.00" y1="661.55" x2="512.80" y2="661.55" stroke="#f0f0f0" stroke-width="0.5" />
<rect x="398.00" y="608.70" width="0.80" height="17.60" fill="#999" />
<rect x="403.00" y="608.70" width="0.80" height="17.60" fill="#999" />
<rect x="413.20" y="608.70" width="0.80" height="17.60" fill="#555" />
<rect x="415.00" y="608.70" width="0.70" height="17.60" fill="#ccc" />
<rect x="420.00" y="608.70" width="1.00" height="17.60" fill="#aaa" />
<rect x="421.50" y="608.70" width="0.70" height="17.60" fill="#ddd" />
<rect x="424.50" y="608.70" width="0.80" height="17.60" fill="#ccc" />
<rect x="425.70" y="608.70" width="3.50" height="17.60" fill="#ccc" />
<rect x="430.70" y="608.70" width="2.30" height="17.60" fill="#888" />
<rect x="436.80" y="608.70" width="1.10" height="17.60" fill="#777" />
<rect x="442.20" y="608.70" width="1.10" height="17.60" fill="#999" />
<rect x="445.60" y="608.70" width="2.30" height="17.60" fill="#555" />
<rect x="449.10" y="608.70" width="0.70" height="17.60" fill="#ccc" />
<rect x="452.90" y="608.70" width="0.80" height="17.60" fill="#888" />
<rect x="461.00" y="608.70" width="1.00" height="17.60" fill="#777" />
<rect x="462.00" y="608.70" width="1.50" height="17.60" fill="#aaa" />
<rect x="463.50" y="608.70" width="1.10" height="17.60" fill="#777" />
<rect x="464.60" y="608.70" width="1.60" height="17.60" fill="#999" />
<rect x="466.20" y="608.70" width="1.00" height="17.60" fill="#777" />
<rect x="468.70" y="608.70" width="1.50" height="17.60" fill="#888" />
<rect x="470.20" y="608.70" width="1.80" height="17.60" fill="#ddd" />
<rect x="472.00" y="608.70" width="3.90" height="17.60" fill="#aaa" />
<rect x="473.60" y="608.70" width="1.20" height="17.60" fill="#888" />
<rect x="477.80" y="608.70" width="2.00" height="17.60" fill="#bbb" />
<rect x="479.80" y="608.70" width="1.50" height="17.60" fill="#888" />
<rect x="481.30" y="608.70" width="2.70" height="17.60" fill="#ccc" />
<rect x="484.00" y="608.70" width="1.20" height="17.60" fill="#555" />
<rect x="485.20" y="608.70" width="2.30" height="17.60" fill="#ccc" />
<rect x="487.50" y="608.70" width="2.30" height="17.60" fill="#999" />
<rect x="489.80" y="608.70" width="1.50" height="17.60" fill="#ddd" />
<rect x="494.40" y="608.70" width="1.50" height="17.60" fill="#555" />
<rect x="495.90" y="608.70" width="1.90" height="17.60" fill="#ccc" />
<rect x="497.80" y="608.70" width="3.50" height="17.60" fill="#888" />
<rect x="501.30" y="608.70" width="3.10" height="17.60" fill="#666" />
<rect x="504.40" y="608.70" width="2.30" height="17.60" fill="#888" />
<rect x="395.00" y="626.30" width="20.20" height="4.50" fill="#d03444" />
<rect x="415.00" y="626.30" width="9.00" height="4.50" fill="#d85c6e" />
<rect x="423.80" y="626.30" width="11.20" height="4.50" fill="#e08292" />
<rect x="434.80" y="626.30" width="12.60" height="4.50" fill="#e4b8dc" />
<rect x="447.20" y="626.30" width="13.60" height="4.50" fill="#d4d2f0" />
<rect x="460.60" y="626.30" width="11.60" height="4.50" fill="#c4bce6" />
<rect x="472.00" y="626.30" width="9.90" height="4.50" fill="#7268c0" />
<rect x="481.70" y="626.30" width="17.50" height="4.50" fill="#5444aa" />
<rect x="499.00" y="626.30" width="7.90" height="4.50" fill="#3a2a9a" />
<text x="396.20" y="633.80" font-size="2.7" fill="#d02828" textLength="40.00" lengthAdjust="spacingAndGlyphs" >&#x27;na_pos&#x27; (positively correlated)</text>
<text x="453.70" y="665.30" font-size="2.7" fill="#3030c8" textLength="42.50" lengthAdjust="spacingAndGlyphs" >&#x27;na_neg&#x27; (negatively correlated)</text>
<path d="M395.00,649.30 L395.00,643.50 L395.70,644.21 L396.40,644.77 L397.10,645.22 L397.80,645.58 L398.50,645.89 L399.20,646.15 L399.90,646.37 L400.60,646.56 L401.30,646.73 L402.00,646.88 L402.70,647.02 L403.40,647.14 L404.10,647.24 L404.80,647.34 L405.50,647.43 L406.20,647.51 L406.90,647.58 L407.60,647.65 L408.30,647.72 L409.00,647.77 L409.70,647.83 L410.40,647.88 L411.10,647.93 L411.80,647.97 L412.50,648.01 L413.20,648.05 L413.90,648.09 L414.60,648.12 L415.30,648.15 L416.00,648.18 L416.70,648.21 L417.40,648.24 L418.10,648.27 L418.80,648.29 L419.50,648.32 L420.20,648.34 L420.90,648.36 L421.60,648.38 L422.30,648.40 L423.00,648.42 L423.70,648.44 L424.40,648.46 L425.10,648.47 L425.80,648.49 L426.50,648.51 L427.20,648.52 L427.90,648.53 L428.60,648.55 L429.30,648.56 L430.00,648.57 L430.70,648.59 L431.40,648.60 L432.10,648.61 L432.80,648.62 L433.50,648.63 L434.20,648.64 L434.90,648.65 L435.60,648.66 L436.30,648.67 L437.00,648.68 L437.70,648.69 L438.40,648.70 L439.10,648.71 L439.80,648.72 L440.50,648.73 L441.20,648.73 L441.90,648.74 L442.60,648.75 L443.30,648.76 L444.00,648.76 L444.70,648.77 L445.40,648.78 L446.10,648.78 L446.80,648.79 L447.50,648.80 L448.20,648.80 L448.90,648.81 L449.60,648.81 L450.30,648.82 L451.00,648.82 L451.70,648.83 L452.40,648.84 L453.10,648.84 L453.80,648.85 L454.50,648.85 L455.20,648.86 L455.90,648.86 L456.60,648.86 L457.30,648.87 L458.00,648.87 L458.70,648.88 L459.40,648.88 L460.10,648.89 L460.00,649.30 Z" fill="#c6c6c6"/>
<path d="M460.00,649.30 L460.00,649.30 L460.39,649.31 L460.77,649.32 L461.16,649.34 L461.55,649.36 L461.93,649.38 L462.32,649.41 L462.71,649.43 L463.09,649.46 L463.48,649.49 L463.87,649.52 L464.25,649.55 L464.64,649.58 L465.03,649.61 L465.41,649.65 L465.80,649.68 L466.19,649.72 L466.57,649.75 L466.96,649.79 L467.35,649.83 L467.73,649.87 L468.12,649.91 L468.51,649.95 L468.89,649.99 L469.28,650.04 L469.67,650.08 L470.05,650.12 L470.44,650.17 L470.83,650.21 L471.21,650.26 L471.60,650.31 L471.99,650.35 L472.37,650.40 L472.76,650.45 L473.15,650.50 L473.53,650.55 L473.92,650.60 L474.31,650.65 L474.69,650.70 L475.08,650.75 L475.47,650.80 L475.85,650.86 L476.24,650.91 L476.63,650.96 L477.01,651.02 L477.40,651.07 L477.79,651.13 L478.17,651.18 L478.56,651.24 L478.95,651.30 L479.33,651.35 L479.72,651.41 L480.11,651.47 L480.49,651.53 L480.88,651.59 L481.27,651.65 L481.65,651.71 L482.04,651.77 L482.43,651.83 L482.81,651.89 L483.20,651.95 L483.59,652.01 L483.97,652.08 L484.36,652.14 L484.75,652.20 L485.13,652.27 L485.52,652.33 L485.91,652.40 L486.29,652.46 L486.68,652.53 L487.07,652.59 L487.45,652.66 L487.84,652.72 L488.23,652.79 L488.61,652.86 L489.00,652.93 L489.39,652.99 L489.77,653.06 L490.16,653.13 L490.55,653.20 L490.93,653.27 L491.32,653.34 L491.71,653.41 L492.09,653.48 L492.48,653.55 L492.87,653.62 L493.25,653.69 L493.64,653.76 L494.03,653.84 L494.41,653.91 L494.80,653.98 L495.19,654.06 L495.57,654.13 L495.96,654.21 L496.35,654.28 L496.73,654.36 L497.12,654.44 L497.51,654.52 L497.89,654.60 L498.28,654.68 L498.67,654.77 L499.05,654.86 L499.44,654.96 L499.83,655.06 L500.21,655.17 L500.60,655.30 L500.99,655.43 L501.37,655.58 L501.76,655.76 L502.15,655.96 L502.53,656.20 L502.92,656.48 L503.31,656.81 L503.69,657.22 L504.08,657.72 L504.47,658.32 L504.85,659.07 L505.24,659.99 L505.63,661.13 L506.01,662.55 L506.40,664.30 L506.40,649.30 Z" fill="#c6c6c6"/>
<line x1="395.00" y1="649.30" x2="506.80" y2="649.30" stroke="#9a9a9a" stroke-width="0.5" />
<text x="433.50" y="650.20" font-size="2.7" fill="#333" textLength="26.00" lengthAdjust="spacingAndGlyphs" >Zero cross at 12XXX</text>
<path d="M394.80,558.10 L394.95,558.06 L395.87,557.82 L397.31,556.97 L398.62,557.88 L399.85,559.35 L401.06,559.53 L402.40,558.94 L403.42,559.57 L404.62,559.79 L406.10,561.19 L407.31,561.84 L408.75,563.18 L410.23,564.63 L411.58,565.33 L412.64,566.25 L414.00,566.32 L415.07,566.68 L416.56,567.29 L417.59,568.19 L418.78,569.09 L420.15,569.28 L421.67,570.85 L422.89,571.50 L424.18,572.01 L425.57,572.72 L427.01,574.25 L428.41,574.61 L429.69,575.20 L430.78,575.86 L432.15,577.24 L432.76,577.22 L434.13,578.32 L435.18,579.01 L436.41,579.75 L437.77,581.10 L439.19,581.69 L440.62,582.92 L442.01,584.23 L443.31,585.12 L444.59,586.40 L445.86,587.29 L447.14,588.54 L448.41,589.17 L449.69,590.46 L450.97,591.65 L452.25,592.58 L453.55,593.83 L454.90,594.90 L456.26,596.22 L457.60,597.64 L458.88,598.47 L460.06,599.37 L461.11,599.95 L462.64,600.68 L463.89,601.26 L464.97,600.85 L466.15,600.96 L467.35,601.08 L468.54,602.10 L469.89,602.23 L471.18,602.80 L472.45,603.62 L473.81,603.66 L475.19,603.89 L476.48,604.26 L477.71,604.64 L479.10,604.93 L480.31,604.77 L481.50,604.68 L482.78,604.64 L484.09,603.98 L485.40,603.16 L486.70,603.05 L488.02,602.34 L489.34,601.21 L490.60,601.02 L491.87,600.86 L493.20,602.37 L494.38,602.80 L495.66,600.76 L497.00,596.00 L498.20,593.66 L499.55,590.61 L500.81,586.95 L502.07,580.03 L503.34,572.60 L504.72,565.93 L506.15,559.88 L506.80,556.50" fill="none" stroke="#74b62c" stroke-width="1.1" stroke-linejoin="round"/>
<rect x="395.00" y="555.00" width="117.80" height="112.30" fill="none" stroke="#111" stroke-width="1.4"/>
<line x1="391.60" y1="557.60" x2="395.00" y2="557.60" stroke="#111" stroke-width="0.9" />
<text x="389.00" y="560.10" font-size="7" fill="#2a2a2a" stroke="#2a2a2a" stroke-width="0.12" text-anchor="end" >0.0</text>
<line x1="391.60" y1="567.25" x2="395.00" y2="567.25" stroke="#111" stroke-width="0.9" />
<text x="389.00" y="569.75" font-size="7" fill="#2a2a2a" stroke="#2a2a2a" stroke-width="0.12" text-anchor="end" >-0.1</text>
<line x1="391.60" y1="576.90" x2="395.00" y2="576.90" stroke="#111" stroke-width="0.9" />
<text x="389.00" y="579.40" font-size="7" fill="#2a2a2a" stroke="#2a2a2a" stroke-width="0.12" text-anchor="end" >-0.2</text>
<line x1="391.60" y1="586.55" x2="395.00" y2="586.55" stroke="#111" stroke-width="0.9" />
<text x="389.00" y="589.05" font-size="7" fill="#2a2a2a" stroke="#2a2a2a" stroke-width="0.12" text-anchor="end" >-0.3</text>
<line x1="391.60" y1="596.20" x2="395.00" y2="596.20" stroke="#111" stroke-width="0.9" />
<text x="389.00" y="598.70" font-size="7" fill="#2a2a2a" stroke="#2a2a2a" stroke-width="0.12" text-anchor="end" >-0.4</text>
<line x1="391.60" y1="605.85" x2="395.00" y2="605.85" stroke="#111" stroke-width="0.9" />
<text x="389.00" y="608.35" font-size="7" fill="#2a2a2a" stroke="#2a2a2a" stroke-width="0.12" text-anchor="end" >-0.5</text>
<text x="391.80" y="633.90" font-size="6.2" fill="#2a2a2a" stroke="#2a2a2a" stroke-width="0.12" text-anchor="end" transform="translate(0 0)">6</text>
<text x="391.80" y="639.85" font-size="6.2" fill="#2a2a2a" stroke="#2a2a2a" stroke-width="0.12" text-anchor="end" transform="translate(0 0)">4</text>
<text x="391.80" y="645.80" font-size="6.2" fill="#2a2a2a" stroke="#2a2a2a" stroke-width="0.12" text-anchor="end" transform="translate(0 0)">2</text>
<text x="391.80" y="651.75" font-size="6.2" fill="#2a2a2a" stroke="#2a2a2a" stroke-width="0.12" text-anchor="end" transform="translate(0 0)">0</text>
<text x="391.80" y="657.70" font-size="6.2" fill="#2a2a2a" stroke="#2a2a2a" stroke-width="0.12" text-anchor="end" transform="translate(0 0)">-2</text>
<text x="391.80" y="663.65" font-size="6.2" fill="#2a2a2a" stroke="#2a2a2a" stroke-width="0.12" text-anchor="end" transform="translate(0 0)">-4</text>
<line x1="395.00" y1="667.30" x2="395.00" y2="670.80" stroke="#111" stroke-width="1" />
<text x="0" y="0" font-size="7.2" fill="#2a2a2a" stroke="#2a2a2a" stroke-width="0.15" text-anchor="end" transform="translate(398.70 676.40) rotate(-45)">0</text>
<line x1="417.36" y1="667.30" x2="417.36" y2="670.80" stroke="#111" stroke-width="1" />
<text x="0" y="0" font-size="7.2" fill="#2a2a2a" stroke="#2a2a2a" stroke-width="0.15" text-anchor="end" transform="translate(421.06 676.40) rotate(-45)">5,000</text>
<line x1="439.72" y1="667.30" x2="439.72" y2="670.80" stroke="#111" stroke-width="1" />
<text x="0" y="0" font-size="7.2" fill="#2a2a2a" stroke="#2a2a2a" stroke-width="0.15" text-anchor="end" transform="translate(443.42 676.40) rotate(-45)">10,000</text>
<line x1="462.08" y1="667.30" x2="462.08" y2="670.80" stroke="#111" stroke-width="1" />
<text x="0" y="0" font-size="7.2" fill="#2a2a2a" stroke="#2a2a2a" stroke-width="0.15" text-anchor="end" transform="translate(465.78 676.40) rotate(-45)">15,000</text>
<line x1="484.44" y1="667.30" x2="484.44" y2="670.80" stroke="#111" stroke-width="1" />
<text x="0" y="0" font-size="7.2" fill="#2a2a2a" stroke="#2a2a2a" stroke-width="0.15" text-anchor="end" transform="translate(488.14 676.40) rotate(-45)">20,000</text>
<line x1="506.80" y1="667.30" x2="506.80" y2="670.80" stroke="#111" stroke-width="1" />
<text x="0" y="0" font-size="7.2" fill="#2a2a2a" stroke="#2a2a2a" stroke-width="0.15" text-anchor="end" transform="translate(510.50 676.40) rotate(-45)">25,000</text>
<text x="453.40" y="703.60" font-size="9.8" fill="#222" stroke="#222" stroke-width="0.12" text-anchor="middle" textLength="75.60" lengthAdjust="spacingAndGlyphs" >Rank in ordered dataset</text>
<text x="452.80" y="567.70" font-size="8.3" fill="#1a1a1a" stroke="#1a1a1a" stroke-width="0.12" style="white-space:pre">NES  -1.9</text>
<text x="452.80" y="577.90" font-size="8.3" fill="#1a1a1a" stroke="#1a1a1a" stroke-width="0.12" style="white-space:pre">FDR  0.0001</text>
<text x="360.60" y="581.50" font-size="9.8" fill="#2a2a2a" stroke="#2a2a2a" stroke-width="0.12" text-anchor="middle" textLength="36.80" lengthAdjust="spacingAndGlyphs" transform="rotate(-90 360.60 581.50)" >Enrichment</text>
<text x="370.00" y="581.70" font-size="9.8" fill="#2a2a2a" stroke="#2a2a2a" stroke-width="0.12" text-anchor="middle" textLength="30.60" lengthAdjust="spacingAndGlyphs" transform="rotate(-90 370.00 581.70)" >score (ES)</text>
<text x="369.50" y="646.30" font-size="9.8" fill="#2a2a2a" stroke="#2a2a2a" stroke-width="0.12" text-anchor="middle" textLength="57.00" lengthAdjust="spacingAndGlyphs" transform="rotate(-90 369.50 646.30)" >Ranked list metric</text>
<text x="377.70" y="646.30" font-size="9.8" fill="#2a2a2a" stroke="#2a2a2a" stroke-width="0.12" text-anchor="middle" textLength="39.50" lengthAdjust="spacingAndGlyphs" transform="rotate(-90 377.70 646.30)" >(PreRanked)</text>
<line x1="352.30" y1="715.20" x2="355.70" y2="715.20" stroke="#8cc060" stroke-width="0.9" />
<text x="358.80" y="717.50" font-size="6.6" fill="#2a2a2a" stroke="#2a2a2a" stroke-width="0.12" textLength="47.10" lengthAdjust="spacingAndGlyphs" >Enrichment profile</text>
<line x1="412.80" y1="715.20" x2="416.00" y2="715.20" stroke="#222" stroke-width="0.9" />
<text x="419.40" y="717.50" font-size="6.6" fill="#2a2a2a" stroke="#2a2a2a" stroke-width="0.12" textLength="9.60" lengthAdjust="spacingAndGlyphs" >Hits</text>
<line x1="435.00" y1="715.20" x2="438.00" y2="715.20" stroke="#999" stroke-width="0.8" />
<line x1="440.00" y1="715.20" x2="443.00" y2="715.20" stroke="#999" stroke-width="0.8" />
<text x="447.30" y="717.50" font-size="6.6" fill="#2a2a2a" stroke="#2a2a2a" stroke-width="0.12" textLength="55.70" lengthAdjust="spacingAndGlyphs" >Ranking metric scores</text></svg>
</body></html>
